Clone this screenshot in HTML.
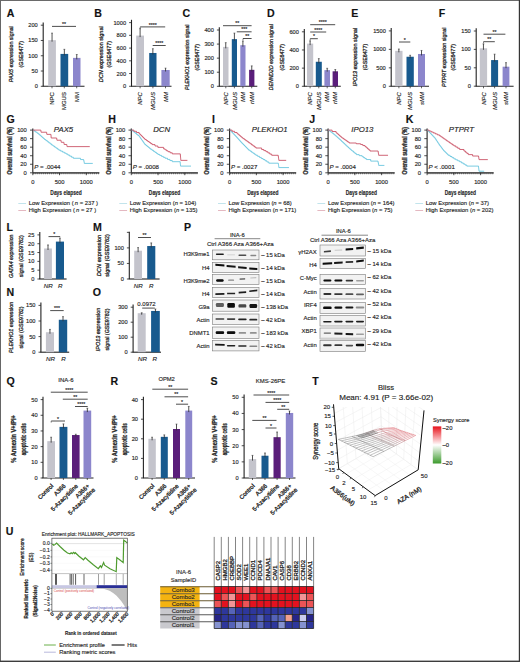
<!DOCTYPE html>
<html><head><meta charset="utf-8"><style>
html,body{margin:0;padding:0;background:#fff;overflow:hidden;width:520px;height:662px;}
svg{display:block;font-family:"Liberation Sans", sans-serif;}
text{stroke:#2a2a2a;stroke-width:0.15px;}
text.c{stroke:none;}
text.r{stroke-width:0.3px;}
</style></head><body>
<svg width="520" height="662" viewBox="0 0 520 662">
<rect x="0" y="0" width="520" height="662" fill="#fff"/>
<text x="6.80" y="16.60" font-size="10.6" font-weight="bold" fill="#111">A</text>
<line x1="43.20" y1="22.40" x2="43.20" y2="86.30" stroke="#222" stroke-width="1.1"/>
<line x1="42.70" y1="86.30" x2="84.50" y2="86.30" stroke="#222" stroke-width="1.1"/>
<line x1="40.80" y1="25.20" x2="43.20" y2="25.20" stroke="#222" stroke-width="0.8"/>
<text x="37.80" y="27.20" font-size="5.7" text-anchor="end" fill="#262626">200</text>
<line x1="40.80" y1="40.48" x2="43.20" y2="40.48" stroke="#222" stroke-width="0.8"/>
<text x="37.80" y="42.48" font-size="5.7" text-anchor="end" fill="#262626">150</text>
<line x1="40.80" y1="55.75" x2="43.20" y2="55.75" stroke="#222" stroke-width="0.8"/>
<text x="37.80" y="57.75" font-size="5.7" text-anchor="end" fill="#262626">100</text>
<line x1="40.80" y1="71.02" x2="43.20" y2="71.02" stroke="#222" stroke-width="0.8"/>
<text x="37.80" y="73.02" font-size="5.7" text-anchor="end" fill="#262626">50</text>
<line x1="40.80" y1="86.30" x2="43.20" y2="86.30" stroke="#222" stroke-width="0.8"/>
<text x="37.80" y="88.30" font-size="5.7" text-anchor="end" fill="#262626">0</text>
<rect x="48.20" y="40.17" width="7.70" height="46.13" fill="#c4c4cc"/>
<line x1="52.05" y1="33.14" x2="52.05" y2="41.67" stroke="#333" stroke-width="0.85"/>
<line x1="51.15" y1="33.14" x2="52.95" y2="33.14" stroke="#333" stroke-width="0.6"/>
<rect x="60.50" y="53.92" width="7.70" height="32.38" fill="#185a8e"/>
<line x1="64.35" y1="49.33" x2="64.35" y2="55.42" stroke="#333" stroke-width="0.85"/>
<line x1="63.45" y1="49.33" x2="65.25" y2="49.33" stroke="#333" stroke-width="0.6"/>
<rect x="73.00" y="57.89" width="7.50" height="28.41" fill="#8c86cc"/>
<line x1="76.75" y1="54.53" x2="76.75" y2="59.39" stroke="#333" stroke-width="0.85"/>
<line x1="75.85" y1="54.53" x2="77.65" y2="54.53" stroke="#333" stroke-width="0.6"/>
<line x1="52.00" y1="26.40" x2="76.00" y2="26.40" stroke="#3a3a3a" stroke-width="0.9"/>
<text x="64.00" y="26.00" font-size="5.2" text-anchor="middle" fill="#262626">**</text>
<line x1="52.00" y1="86.30" x2="52.00" y2="88.30" stroke="#222" stroke-width="0.7"/>
<text x="54.20" y="92.10" font-size="6.0" text-anchor="end" fill="#262626" transform="rotate(-90 54.20 92.10)">NPC</text>
<line x1="64.30" y1="86.30" x2="64.30" y2="88.30" stroke="#222" stroke-width="0.7"/>
<text x="66.50" y="92.10" font-size="6.0" text-anchor="end" fill="#262626" transform="rotate(-90 66.50 92.10)">MGUS</text>
<line x1="76.70" y1="86.30" x2="76.70" y2="88.30" stroke="#222" stroke-width="0.7"/>
<text x="78.90" y="92.10" font-size="6.0" text-anchor="end" fill="#262626" transform="rotate(-90 78.90 92.10)">MM</text>
<text x="12.60" y="54.20" font-size="6.0" text-anchor="middle" fill="#262626" textLength="56.0" lengthAdjust="spacingAndGlyphs" class="r" transform="rotate(-90 12.60 54.20)"><tspan font-style="italic">PAX5</tspan> expression signal</text>
<text x="22.80" y="54.20" font-size="6.0" text-anchor="middle" fill="#262626" transform="rotate(-90 22.80 54.20)" class="r" textLength="26.4" lengthAdjust="spacingAndGlyphs">(GSE6477)</text>
<text x="94.20" y="16.60" font-size="10.6" font-weight="bold" fill="#111">B</text>
<line x1="131.50" y1="19.80" x2="131.50" y2="86.30" stroke="#222" stroke-width="1.1"/>
<line x1="131.00" y1="86.30" x2="171.50" y2="86.30" stroke="#222" stroke-width="1.1"/>
<line x1="129.10" y1="22.60" x2="131.50" y2="22.60" stroke="#222" stroke-width="0.8"/>
<text x="126.10" y="24.60" font-size="5.7" text-anchor="end" fill="#262626">1000</text>
<line x1="129.10" y1="35.34" x2="131.50" y2="35.34" stroke="#222" stroke-width="0.8"/>
<text x="126.10" y="37.34" font-size="5.7" text-anchor="end" fill="#262626">800</text>
<line x1="129.10" y1="48.08" x2="131.50" y2="48.08" stroke="#222" stroke-width="0.8"/>
<text x="126.10" y="50.08" font-size="5.7" text-anchor="end" fill="#262626">600</text>
<line x1="129.10" y1="60.82" x2="131.50" y2="60.82" stroke="#222" stroke-width="0.8"/>
<text x="126.10" y="62.82" font-size="5.7" text-anchor="end" fill="#262626">400</text>
<line x1="129.10" y1="73.56" x2="131.50" y2="73.56" stroke="#222" stroke-width="0.8"/>
<text x="126.10" y="75.56" font-size="5.7" text-anchor="end" fill="#262626">200</text>
<line x1="129.10" y1="86.30" x2="131.50" y2="86.30" stroke="#222" stroke-width="0.8"/>
<text x="126.10" y="88.30" font-size="5.7" text-anchor="end" fill="#262626">0</text>
<rect x="136.20" y="35.59" width="7.80" height="50.71" fill="#c4c4cc"/>
<line x1="140.10" y1="28.65" x2="140.10" y2="37.09" stroke="#333" stroke-width="0.85"/>
<line x1="139.20" y1="28.65" x2="141.00" y2="28.65" stroke="#333" stroke-width="0.6"/>
<rect x="149.20" y="52.98" width="7.30" height="33.32" fill="#185a8e"/>
<line x1="152.85" y1="48.72" x2="152.85" y2="54.48" stroke="#333" stroke-width="0.85"/>
<line x1="151.95" y1="48.72" x2="153.75" y2="48.72" stroke="#333" stroke-width="0.6"/>
<rect x="161.40" y="69.99" width="8.30" height="16.31" fill="#8c86cc"/>
<line x1="165.55" y1="68.15" x2="165.55" y2="71.49" stroke="#333" stroke-width="0.85"/>
<line x1="164.65" y1="68.15" x2="166.45" y2="68.15" stroke="#333" stroke-width="0.6"/>
<line x1="140.20" y1="26.90" x2="165.20" y2="26.90" stroke="#3a3a3a" stroke-width="0.9"/>
<line x1="140.20" y1="26.90" x2="140.20" y2="28.50" stroke="#333" stroke-width="0.6"/>
<text x="152.70" y="26.50" font-size="5.2" text-anchor="middle" fill="#262626">****</text>
<line x1="152.70" y1="45.50" x2="165.70" y2="45.50" stroke="#3a3a3a" stroke-width="0.9"/>
<text x="159.20" y="45.10" font-size="5.2" text-anchor="middle" fill="#262626">****</text>
<line x1="140.10" y1="86.30" x2="140.10" y2="88.30" stroke="#222" stroke-width="0.7"/>
<text x="142.30" y="92.10" font-size="6.0" text-anchor="end" fill="#262626" font-style="italic" transform="rotate(-90 142.30 92.10)">NPC</text>
<line x1="152.90" y1="86.30" x2="152.90" y2="88.30" stroke="#222" stroke-width="0.7"/>
<text x="155.10" y="92.10" font-size="6.0" text-anchor="end" fill="#262626" font-style="italic" transform="rotate(-90 155.10 92.10)">MGUS</text>
<line x1="165.50" y1="86.30" x2="165.50" y2="88.30" stroke="#222" stroke-width="0.7"/>
<text x="167.70" y="92.10" font-size="6.0" text-anchor="end" fill="#262626" font-style="italic" transform="rotate(-90 167.70 92.10)">MM</text>
<text x="102.70" y="54.30" font-size="6.0" text-anchor="middle" fill="#262626" textLength="56.0" lengthAdjust="spacingAndGlyphs" class="r" transform="rotate(-90 102.70 54.30)"><tspan font-style="italic">DCN</tspan> expression signal</text>
<text x="111.40" y="54.30" font-size="6.0" text-anchor="middle" fill="#262626" transform="rotate(-90 111.40 54.30)" class="r" textLength="26.4" lengthAdjust="spacingAndGlyphs">(GSE6477)</text>
<text x="182.60" y="16.60" font-size="10.6" font-weight="bold" fill="#111">C</text>
<line x1="219.30" y1="27.20" x2="219.30" y2="86.30" stroke="#222" stroke-width="1.1"/>
<line x1="218.80" y1="86.30" x2="257.30" y2="86.30" stroke="#222" stroke-width="1.1"/>
<line x1="216.90" y1="30.00" x2="219.30" y2="30.00" stroke="#222" stroke-width="0.8"/>
<text x="213.90" y="32.00" font-size="5.7" text-anchor="end" fill="#262626">400</text>
<line x1="216.90" y1="44.08" x2="219.30" y2="44.08" stroke="#222" stroke-width="0.8"/>
<text x="213.90" y="46.08" font-size="5.7" text-anchor="end" fill="#262626">300</text>
<line x1="216.90" y1="58.15" x2="219.30" y2="58.15" stroke="#222" stroke-width="0.8"/>
<text x="213.90" y="60.15" font-size="5.7" text-anchor="end" fill="#262626">200</text>
<line x1="216.90" y1="72.22" x2="219.30" y2="72.22" stroke="#222" stroke-width="0.8"/>
<text x="213.90" y="74.22" font-size="5.7" text-anchor="end" fill="#262626">100</text>
<line x1="216.90" y1="86.30" x2="219.30" y2="86.30" stroke="#222" stroke-width="0.8"/>
<text x="213.90" y="88.30" font-size="5.7" text-anchor="end" fill="#262626">0</text>
<rect x="223.00" y="46.89" width="5.50" height="39.41" fill="#c4c4cc"/>
<line x1="225.75" y1="42.67" x2="225.75" y2="48.39" stroke="#333" stroke-width="0.85"/>
<line x1="224.85" y1="42.67" x2="226.65" y2="42.67" stroke="#333" stroke-width="0.6"/>
<rect x="231.80" y="39.15" width="5.20" height="47.15" fill="#185a8e"/>
<line x1="234.40" y1="33.10" x2="234.40" y2="40.65" stroke="#333" stroke-width="0.85"/>
<line x1="233.50" y1="33.10" x2="235.30" y2="33.10" stroke="#333" stroke-width="0.6"/>
<rect x="240.30" y="45.20" width="5.20" height="41.10" fill="#8c86cc"/>
<line x1="242.90" y1="40.98" x2="242.90" y2="46.70" stroke="#333" stroke-width="0.85"/>
<line x1="242.00" y1="40.98" x2="243.80" y2="40.98" stroke="#333" stroke-width="0.6"/>
<rect x="249.10" y="69.83" width="5.30" height="16.47" fill="#5a1e7a"/>
<line x1="251.75" y1="65.89" x2="251.75" y2="71.33" stroke="#333" stroke-width="0.85"/>
<line x1="250.85" y1="65.89" x2="252.65" y2="65.89" stroke="#333" stroke-width="0.6"/>
<line x1="223.00" y1="25.70" x2="251.60" y2="25.70" stroke="#3a3a3a" stroke-width="0.9"/>
<text x="237.30" y="25.30" font-size="5.2" text-anchor="middle" fill="#262626">**</text>
<line x1="236.80" y1="31.80" x2="251.60" y2="31.80" stroke="#3a3a3a" stroke-width="0.9"/>
<text x="244.20" y="31.40" font-size="5.2" text-anchor="middle" fill="#262626">***</text>
<line x1="243.00" y1="38.50" x2="251.60" y2="38.50" stroke="#3a3a3a" stroke-width="0.9"/>
<line x1="243.00" y1="38.50" x2="243.00" y2="40.10" stroke="#333" stroke-width="0.6"/>
<text x="247.30" y="38.10" font-size="5.2" text-anchor="middle" fill="#262626">**</text>
<line x1="225.80" y1="86.30" x2="225.80" y2="88.30" stroke="#222" stroke-width="0.7"/>
<text x="228.00" y="92.10" font-size="6.0" text-anchor="end" fill="#262626" font-style="italic" transform="rotate(-90 228.00 92.10)">NPC</text>
<line x1="234.40" y1="86.30" x2="234.40" y2="88.30" stroke="#222" stroke-width="0.7"/>
<text x="236.60" y="92.10" font-size="6.0" text-anchor="end" fill="#262626" font-style="italic" transform="rotate(-90 236.60 92.10)">MGUS</text>
<line x1="242.90" y1="86.30" x2="242.90" y2="88.30" stroke="#222" stroke-width="0.7"/>
<text x="245.10" y="92.10" font-size="6.0" text-anchor="end" fill="#262626" font-style="italic" transform="rotate(-90 245.10 92.10)">MM</text>
<line x1="251.70" y1="86.30" x2="251.70" y2="88.30" stroke="#222" stroke-width="0.7"/>
<text x="253.90" y="92.10" font-size="6.0" text-anchor="end" fill="#262626" font-style="italic" transform="rotate(-90 253.90 92.10)">rMM</text>
<text x="188.80" y="57.30" font-size="6.0" text-anchor="middle" fill="#262626" textLength="65.5" lengthAdjust="spacingAndGlyphs" class="r" transform="rotate(-90 188.80 57.30)"><tspan font-style="italic">PLEKHO1</tspan> expression signal</text>
<text x="198.90" y="57.30" font-size="6.0" text-anchor="middle" fill="#262626" transform="rotate(-90 198.90 57.30)" class="r" textLength="26.4" lengthAdjust="spacingAndGlyphs">(GSE6477)</text>
<text x="267.00" y="16.60" font-size="10.6" font-weight="bold" fill="#111">D</text>
<line x1="304.30" y1="29.00" x2="304.30" y2="86.30" stroke="#222" stroke-width="1.1"/>
<line x1="303.80" y1="86.30" x2="340.80" y2="86.30" stroke="#222" stroke-width="1.1"/>
<line x1="301.90" y1="31.80" x2="304.30" y2="31.80" stroke="#222" stroke-width="0.8"/>
<text x="298.90" y="33.80" font-size="5.7" text-anchor="end" fill="#262626">600</text>
<line x1="301.90" y1="49.97" x2="304.30" y2="49.97" stroke="#222" stroke-width="0.8"/>
<text x="298.90" y="51.97" font-size="5.7" text-anchor="end" fill="#262626">400</text>
<line x1="301.90" y1="68.13" x2="304.30" y2="68.13" stroke="#222" stroke-width="0.8"/>
<text x="298.90" y="70.13" font-size="5.7" text-anchor="end" fill="#262626">200</text>
<line x1="301.90" y1="86.30" x2="304.30" y2="86.30" stroke="#222" stroke-width="0.8"/>
<text x="298.90" y="88.30" font-size="5.7" text-anchor="end" fill="#262626">0</text>
<rect x="307.00" y="43.61" width="6.20" height="42.69" fill="#c4c4cc"/>
<line x1="310.10" y1="40.88" x2="310.10" y2="45.11" stroke="#333" stroke-width="0.85"/>
<line x1="309.20" y1="40.88" x2="311.00" y2="40.88" stroke="#333" stroke-width="0.6"/>
<rect x="315.80" y="61.77" width="6.00" height="24.53" fill="#185a8e"/>
<line x1="318.80" y1="58.60" x2="318.80" y2="63.27" stroke="#333" stroke-width="0.85"/>
<line x1="317.90" y1="58.60" x2="319.70" y2="58.60" stroke="#333" stroke-width="0.6"/>
<rect x="324.40" y="70.13" width="5.60" height="16.17" fill="#8c86cc"/>
<line x1="327.20" y1="68.31" x2="327.20" y2="71.63" stroke="#333" stroke-width="0.85"/>
<line x1="326.30" y1="68.31" x2="328.10" y2="68.31" stroke="#333" stroke-width="0.6"/>
<rect x="332.60" y="71.31" width="5.40" height="14.99" fill="#5a1e7a"/>
<line x1="335.30" y1="69.50" x2="335.30" y2="72.81" stroke="#333" stroke-width="0.85"/>
<line x1="334.40" y1="69.50" x2="336.20" y2="69.50" stroke="#333" stroke-width="0.6"/>
<line x1="310.20" y1="24.70" x2="335.20" y2="24.70" stroke="#3a3a3a" stroke-width="0.9"/>
<text x="322.70" y="24.30" font-size="5.2" text-anchor="middle" fill="#262626">****</text>
<line x1="310.20" y1="32.00" x2="326.20" y2="32.00" stroke="#3a3a3a" stroke-width="0.9"/>
<text x="318.20" y="31.60" font-size="5.2" text-anchor="middle" fill="#262626">****</text>
<line x1="310.20" y1="38.70" x2="317.80" y2="38.70" stroke="#3a3a3a" stroke-width="0.9"/>
<line x1="310.20" y1="38.70" x2="310.20" y2="40.30" stroke="#333" stroke-width="0.6"/>
<text x="314.00" y="38.30" font-size="5.2" text-anchor="middle" fill="#262626">*</text>
<line x1="310.10" y1="86.30" x2="310.10" y2="88.30" stroke="#222" stroke-width="0.7"/>
<text x="312.30" y="92.10" font-size="6.0" text-anchor="end" fill="#262626" font-style="italic" transform="rotate(-90 312.30 92.10)">NPC</text>
<line x1="318.80" y1="86.30" x2="318.80" y2="88.30" stroke="#222" stroke-width="0.7"/>
<text x="321.00" y="92.10" font-size="6.0" text-anchor="end" fill="#262626" font-style="italic" transform="rotate(-90 321.00 92.10)">MGUS</text>
<line x1="327.20" y1="86.30" x2="327.20" y2="88.30" stroke="#222" stroke-width="0.7"/>
<text x="329.40" y="92.10" font-size="6.0" text-anchor="end" fill="#262626" font-style="italic" transform="rotate(-90 329.40 92.10)">MM</text>
<line x1="335.30" y1="86.30" x2="335.30" y2="88.30" stroke="#222" stroke-width="0.7"/>
<text x="337.50" y="92.10" font-size="6.0" text-anchor="end" fill="#262626" font-style="italic" transform="rotate(-90 337.50 92.10)">rMM</text>
<text x="273.20" y="57.20" font-size="6.0" text-anchor="middle" fill="#262626" textLength="66.0" lengthAdjust="spacingAndGlyphs" class="r" transform="rotate(-90 273.20 57.20)"><tspan font-style="italic">DENND2D</tspan> expression signal</text>
<text x="283.60" y="57.20" font-size="6.0" text-anchor="middle" fill="#262626" transform="rotate(-90 283.60 57.20)" class="r" textLength="26.4" lengthAdjust="spacingAndGlyphs">(GSE6477)</text>
<text x="351.30" y="16.60" font-size="10.6" font-weight="bold" fill="#111">E</text>
<line x1="391.20" y1="28.10" x2="391.20" y2="86.30" stroke="#222" stroke-width="1.1"/>
<line x1="390.70" y1="86.30" x2="429.00" y2="86.30" stroke="#222" stroke-width="1.1"/>
<line x1="388.80" y1="30.90" x2="391.20" y2="30.90" stroke="#222" stroke-width="0.8"/>
<text x="385.80" y="32.90" font-size="5.7" text-anchor="end" fill="#262626">1500</text>
<line x1="388.80" y1="49.37" x2="391.20" y2="49.37" stroke="#222" stroke-width="0.8"/>
<text x="385.80" y="51.37" font-size="5.7" text-anchor="end" fill="#262626">1000</text>
<line x1="388.80" y1="67.83" x2="391.20" y2="67.83" stroke="#222" stroke-width="0.8"/>
<text x="385.80" y="69.83" font-size="5.7" text-anchor="end" fill="#262626">500</text>
<line x1="388.80" y1="86.30" x2="391.20" y2="86.30" stroke="#222" stroke-width="0.8"/>
<text x="385.80" y="88.30" font-size="5.7" text-anchor="end" fill="#262626">0</text>
<rect x="395.20" y="50.84" width="7.30" height="35.46" fill="#c4c4cc"/>
<line x1="398.85" y1="49.00" x2="398.85" y2="52.34" stroke="#333" stroke-width="0.85"/>
<line x1="397.95" y1="49.00" x2="399.75" y2="49.00" stroke="#333" stroke-width="0.6"/>
<rect x="406.50" y="56.75" width="7.30" height="29.55" fill="#185a8e"/>
<line x1="410.15" y1="55.28" x2="410.15" y2="58.25" stroke="#333" stroke-width="0.85"/>
<line x1="409.25" y1="55.28" x2="411.05" y2="55.28" stroke="#333" stroke-width="0.6"/>
<rect x="418.00" y="53.98" width="7.00" height="32.32" fill="#8c86cc"/>
<line x1="421.50" y1="50.47" x2="421.50" y2="55.48" stroke="#333" stroke-width="0.85"/>
<line x1="420.60" y1="50.47" x2="422.40" y2="50.47" stroke="#333" stroke-width="0.6"/>
<line x1="399.00" y1="42.00" x2="410.30" y2="42.00" stroke="#3a3a3a" stroke-width="0.9"/>
<text x="404.65" y="41.60" font-size="5.2" text-anchor="middle" fill="#262626">*</text>
<line x1="398.90" y1="86.30" x2="398.90" y2="88.30" stroke="#222" stroke-width="0.7"/>
<text x="401.10" y="92.10" font-size="6.0" text-anchor="end" fill="#262626" font-style="italic" transform="rotate(-90 401.10 92.10)">NPC</text>
<line x1="410.20" y1="86.30" x2="410.20" y2="88.30" stroke="#222" stroke-width="0.7"/>
<text x="412.40" y="92.10" font-size="6.0" text-anchor="end" fill="#262626" font-style="italic" transform="rotate(-90 412.40 92.10)">MGUS</text>
<line x1="421.50" y1="86.30" x2="421.50" y2="88.30" stroke="#222" stroke-width="0.7"/>
<text x="423.70" y="92.10" font-size="6.0" text-anchor="end" fill="#262626" font-style="italic" transform="rotate(-90 423.70 92.10)">sMM</text>
<text x="357.00" y="57.00" font-size="6.0" text-anchor="middle" fill="#262626" textLength="58.4" lengthAdjust="spacingAndGlyphs" class="r" transform="rotate(-90 357.00 57.00)"><tspan font-style="italic">IPO13</tspan> expression signal</text>
<text x="366.80" y="57.00" font-size="6.0" text-anchor="middle" fill="#262626" transform="rotate(-90 366.80 57.00)" class="r" textLength="26.4" lengthAdjust="spacingAndGlyphs">(GSE6477)</text>
<text x="438.80" y="16.60" font-size="10.6" font-weight="bold" fill="#111">F</text>
<line x1="476.20" y1="28.20" x2="476.20" y2="86.20" stroke="#222" stroke-width="1.1"/>
<line x1="475.70" y1="86.20" x2="513.60" y2="86.20" stroke="#222" stroke-width="1.1"/>
<line x1="473.80" y1="31.00" x2="476.20" y2="31.00" stroke="#222" stroke-width="0.8"/>
<text x="470.80" y="33.00" font-size="5.7" text-anchor="end" fill="#262626">150</text>
<line x1="473.80" y1="49.40" x2="476.20" y2="49.40" stroke="#222" stroke-width="0.8"/>
<text x="470.80" y="51.40" font-size="5.7" text-anchor="end" fill="#262626">100</text>
<line x1="473.80" y1="67.80" x2="476.20" y2="67.80" stroke="#222" stroke-width="0.8"/>
<text x="470.80" y="69.80" font-size="5.7" text-anchor="end" fill="#262626">50</text>
<line x1="473.80" y1="86.20" x2="476.20" y2="86.20" stroke="#222" stroke-width="0.8"/>
<text x="470.80" y="88.20" font-size="5.7" text-anchor="end" fill="#262626">0</text>
<rect x="479.80" y="48.30" width="7.30" height="37.90" fill="#c4c4cc"/>
<line x1="483.45" y1="43.88" x2="483.45" y2="49.80" stroke="#333" stroke-width="0.85"/>
<line x1="482.55" y1="43.88" x2="484.35" y2="43.88" stroke="#333" stroke-width="0.6"/>
<rect x="491.10" y="60.07" width="7.00" height="26.13" fill="#185a8e"/>
<line x1="494.60" y1="54.18" x2="494.60" y2="61.57" stroke="#333" stroke-width="0.85"/>
<line x1="493.70" y1="54.18" x2="495.50" y2="54.18" stroke="#333" stroke-width="0.6"/>
<rect x="502.60" y="66.70" width="6.80" height="19.50" fill="#8c86cc"/>
<line x1="506.00" y1="62.65" x2="506.00" y2="68.20" stroke="#333" stroke-width="0.85"/>
<line x1="505.10" y1="62.65" x2="506.90" y2="62.65" stroke="#333" stroke-width="0.6"/>
<line x1="483.50" y1="34.20" x2="505.40" y2="34.20" stroke="#3a3a3a" stroke-width="0.9"/>
<text x="494.45" y="33.80" font-size="5.2" text-anchor="middle" fill="#262626">**</text>
<line x1="483.50" y1="41.70" x2="494.80" y2="41.70" stroke="#3a3a3a" stroke-width="0.9"/>
<line x1="483.50" y1="41.70" x2="483.50" y2="43.30" stroke="#333" stroke-width="0.6"/>
<text x="489.15" y="41.30" font-size="5.2" text-anchor="middle" fill="#262626">**</text>
<line x1="483.50" y1="86.30" x2="483.50" y2="88.30" stroke="#222" stroke-width="0.7"/>
<text x="485.70" y="92.10" font-size="6.0" text-anchor="end" fill="#262626" font-style="italic" transform="rotate(-90 485.70 92.10)">NPC</text>
<line x1="494.60" y1="86.30" x2="494.60" y2="88.30" stroke="#222" stroke-width="0.7"/>
<text x="496.80" y="92.10" font-size="6.0" text-anchor="end" fill="#262626" font-style="italic" transform="rotate(-90 496.80 92.10)">MGUS</text>
<line x1="506.00" y1="86.30" x2="506.00" y2="88.30" stroke="#222" stroke-width="0.7"/>
<text x="508.20" y="92.10" font-size="6.0" text-anchor="end" fill="#262626" font-style="italic" transform="rotate(-90 508.20 92.10)">sMM</text>
<text x="446.20" y="57.30" font-size="6.0" text-anchor="middle" fill="#262626" textLength="59.6" lengthAdjust="spacingAndGlyphs" class="r" transform="rotate(-90 446.20 57.30)"><tspan font-style="italic">PTPRT</tspan> expression signal</text>
<text x="455.50" y="57.30" font-size="6.0" text-anchor="middle" fill="#262626" transform="rotate(-90 455.50 57.30)" class="r" textLength="26.4" lengthAdjust="spacingAndGlyphs">(GSE6477)</text>
<line x1="32.80" y1="128.60" x2="32.80" y2="172.80" stroke="#222" stroke-width="1.1"/>
<line x1="32.80" y1="172.80" x2="99.40" y2="172.80" stroke="#222" stroke-width="1.2"/>
<line x1="33.80" y1="172.80" x2="33.80" y2="174.30" stroke="#222" stroke-width="0.5"/>
<line x1="35.76" y1="172.80" x2="35.76" y2="174.30" stroke="#222" stroke-width="0.5"/>
<line x1="37.72" y1="172.80" x2="37.72" y2="174.30" stroke="#222" stroke-width="0.5"/>
<line x1="39.68" y1="172.80" x2="39.68" y2="174.30" stroke="#222" stroke-width="0.5"/>
<line x1="41.64" y1="172.80" x2="41.64" y2="174.30" stroke="#222" stroke-width="0.5"/>
<line x1="43.60" y1="172.80" x2="43.60" y2="174.30" stroke="#222" stroke-width="0.5"/>
<line x1="45.56" y1="172.80" x2="45.56" y2="174.30" stroke="#222" stroke-width="0.5"/>
<line x1="47.52" y1="172.80" x2="47.52" y2="174.30" stroke="#222" stroke-width="0.5"/>
<line x1="49.48" y1="172.80" x2="49.48" y2="174.30" stroke="#222" stroke-width="0.5"/>
<line x1="51.44" y1="172.80" x2="51.44" y2="174.30" stroke="#222" stroke-width="0.5"/>
<line x1="53.40" y1="172.80" x2="53.40" y2="174.30" stroke="#222" stroke-width="0.5"/>
<line x1="55.36" y1="172.80" x2="55.36" y2="174.30" stroke="#222" stroke-width="0.5"/>
<line x1="57.32" y1="172.80" x2="57.32" y2="174.30" stroke="#222" stroke-width="0.5"/>
<line x1="59.28" y1="172.80" x2="59.28" y2="174.30" stroke="#222" stroke-width="0.5"/>
<line x1="61.24" y1="172.80" x2="61.24" y2="174.30" stroke="#222" stroke-width="0.5"/>
<line x1="63.20" y1="172.80" x2="63.20" y2="174.30" stroke="#222" stroke-width="0.5"/>
<line x1="65.16" y1="172.80" x2="65.16" y2="174.30" stroke="#222" stroke-width="0.5"/>
<line x1="67.12" y1="172.80" x2="67.12" y2="174.30" stroke="#222" stroke-width="0.5"/>
<line x1="69.08" y1="172.80" x2="69.08" y2="174.30" stroke="#222" stroke-width="0.5"/>
<line x1="71.04" y1="172.80" x2="71.04" y2="174.30" stroke="#222" stroke-width="0.5"/>
<line x1="73.00" y1="172.80" x2="73.00" y2="174.30" stroke="#222" stroke-width="0.5"/>
<line x1="74.96" y1="172.80" x2="74.96" y2="174.30" stroke="#222" stroke-width="0.5"/>
<line x1="76.92" y1="172.80" x2="76.92" y2="174.30" stroke="#222" stroke-width="0.5"/>
<line x1="78.88" y1="172.80" x2="78.88" y2="174.30" stroke="#222" stroke-width="0.5"/>
<line x1="80.84" y1="172.80" x2="80.84" y2="174.30" stroke="#222" stroke-width="0.5"/>
<line x1="82.80" y1="172.80" x2="82.80" y2="174.30" stroke="#222" stroke-width="0.5"/>
<line x1="84.76" y1="172.80" x2="84.76" y2="174.30" stroke="#222" stroke-width="0.5"/>
<line x1="86.72" y1="172.80" x2="86.72" y2="174.30" stroke="#222" stroke-width="0.5"/>
<line x1="88.68" y1="172.80" x2="88.68" y2="174.30" stroke="#222" stroke-width="0.5"/>
<line x1="90.64" y1="172.80" x2="90.64" y2="174.30" stroke="#222" stroke-width="0.5"/>
<line x1="92.60" y1="172.80" x2="92.60" y2="174.30" stroke="#222" stroke-width="0.5"/>
<line x1="94.56" y1="172.80" x2="94.56" y2="174.30" stroke="#222" stroke-width="0.5"/>
<line x1="96.52" y1="172.80" x2="96.52" y2="174.30" stroke="#222" stroke-width="0.5"/>
<line x1="98.48" y1="172.80" x2="98.48" y2="174.30" stroke="#222" stroke-width="0.5"/>
<line x1="30.00" y1="172.80" x2="32.80" y2="172.80" stroke="#222" stroke-width="0.8"/>
<text x="26.80" y="174.80" font-size="5.8" text-anchor="end" fill="#262626">0</text>
<line x1="30.00" y1="164.26" x2="32.80" y2="164.26" stroke="#222" stroke-width="0.8"/>
<text x="26.80" y="166.26" font-size="5.8" text-anchor="end" fill="#262626">20</text>
<line x1="30.00" y1="155.72" x2="32.80" y2="155.72" stroke="#222" stroke-width="0.8"/>
<text x="26.80" y="157.72" font-size="5.8" text-anchor="end" fill="#262626">40</text>
<line x1="30.00" y1="147.18" x2="32.80" y2="147.18" stroke="#222" stroke-width="0.8"/>
<text x="26.80" y="149.18" font-size="5.8" text-anchor="end" fill="#262626">60</text>
<line x1="30.00" y1="138.64" x2="32.80" y2="138.64" stroke="#222" stroke-width="0.8"/>
<text x="26.80" y="140.64" font-size="5.8" text-anchor="end" fill="#262626">80</text>
<line x1="30.00" y1="130.10" x2="32.80" y2="130.10" stroke="#222" stroke-width="0.8"/>
<text x="26.80" y="132.10" font-size="5.8" text-anchor="end" fill="#262626">100</text>
<line x1="32.80" y1="172.80" x2="32.80" y2="175.20" stroke="#222" stroke-width="0.8"/>
<text x="32.80" y="184.30" font-size="5.8" text-anchor="middle" fill="#262626">0</text>
<line x1="59.55" y1="172.80" x2="59.55" y2="175.20" stroke="#222" stroke-width="0.8"/>
<text x="59.55" y="184.30" font-size="5.8" text-anchor="middle" fill="#262626">500</text>
<line x1="86.30" y1="172.80" x2="86.30" y2="175.20" stroke="#222" stroke-width="0.8"/>
<text x="86.30" y="184.30" font-size="5.8" text-anchor="middle" fill="#262626">1000</text>
<text x="66.00" y="194.50" font-size="7.6" text-anchor="middle" font-weight="bold" fill="#262626" textLength="31.3" lengthAdjust="spacingAndGlyphs">Days elapsed</text>
<text x="12.30" y="150.80" font-size="6.6" text-anchor="middle" font-weight="bold" fill="#262626" transform="rotate(-90 12.30 150.80)" class="r" textLength="47.5" lengthAdjust="spacingAndGlyphs">Overall survival (%)</text>
<text x="63.50" y="132.00" font-size="7.8" text-anchor="middle" font-style="italic" fill="#222">PAX5</text>
<text x="34.20" y="169.2" font-size="6.1" fill="#262626"><tspan font-style="italic">P</tspan> = .0044</text>
<path d="M32.80,130.10 L34.27,130.10 L34.27,131.17 L35.74,131.17 L35.74,132.23 L37.21,132.23 L37.21,133.30 L38.68,133.30 L38.68,134.37 L39.83,134.37 L39.83,135.39 L40.97,135.39 L40.97,136.42 L42.12,136.42 L42.12,137.44 L43.26,137.44 L43.26,138.47 L44.41,138.47 L44.41,139.49 L45.85,139.49 L45.85,140.60 L47.30,140.60 L47.30,141.71 L48.74,141.71 L48.74,142.82 L50.19,142.82 L50.19,143.93 L51.63,143.93 L51.63,145.05 L53.08,145.05 L53.08,146.07 L54.52,146.07 L54.52,147.09 L55.97,147.09 L55.97,148.12 L57.41,148.12 L57.41,149.14 L58.85,149.14 L58.85,150.17 L60.66,150.17 L60.66,151.13 L62.47,151.13 L62.47,152.09 L64.27,152.09 L64.27,153.05 L66.08,153.05 L66.08,154.01 L67.88,154.01 L67.88,155.08 L69.69,155.08 L69.69,156.15 L71.49,156.15 L71.49,157.21 L73.30,157.21 L73.30,158.28 L80.52,158.28 L80.52,159.56 L83.62,159.56 L83.62,159.99 L83.84,159.99 L83.84,161.13 L84.05,161.13 L84.05,162.27 L84.27,162.27 L84.27,163.41 L92.77,163.41 L92.77,163.41" stroke="#62c3dd" stroke-width="0.85" fill="none"/>
<path d="M32.80,130.10 L40.82,130.10 L41.09,132.23 L46.60,132.23 L46.82,134.37 L50.94,134.37 L51.20,138.00 L56.66,138.00 L56.93,140.22 L60.99,140.22 L61.26,142.31 L63.88,142.31 L64.15,144.49 L66.77,144.49 L67.04,146.62 L89.78,146.62" stroke="#c84a5e" stroke-width="0.85" fill="none"/>
<line x1="18.30" y1="203.50" x2="26.10" y2="203.50" stroke="#a8d8e4" stroke-width="0.7"/>
<line x1="18.30" y1="210.50" x2="26.10" y2="210.50" stroke="#d89aa6" stroke-width="0.7"/>
<text x="28.80" y="205.4" font-size="5.85" fill="#262626">Low Expression (&#8201;<tspan font-style="italic">n</tspan> = 237 )</text>
<text x="28.80" y="212.4" font-size="5.85" fill="#262626">High Expression (&#8201;<tspan font-style="italic">n</tspan> = 27 )</text>
<text x="6.60" y="122.70" font-size="10.6" font-weight="bold" fill="#111">G</text>
<line x1="131.30" y1="128.60" x2="131.30" y2="172.80" stroke="#222" stroke-width="1.1"/>
<line x1="131.30" y1="172.80" x2="197.90" y2="172.80" stroke="#222" stroke-width="1.2"/>
<line x1="132.30" y1="172.80" x2="132.30" y2="174.30" stroke="#222" stroke-width="0.5"/>
<line x1="134.26" y1="172.80" x2="134.26" y2="174.30" stroke="#222" stroke-width="0.5"/>
<line x1="136.22" y1="172.80" x2="136.22" y2="174.30" stroke="#222" stroke-width="0.5"/>
<line x1="138.18" y1="172.80" x2="138.18" y2="174.30" stroke="#222" stroke-width="0.5"/>
<line x1="140.14" y1="172.80" x2="140.14" y2="174.30" stroke="#222" stroke-width="0.5"/>
<line x1="142.10" y1="172.80" x2="142.10" y2="174.30" stroke="#222" stroke-width="0.5"/>
<line x1="144.06" y1="172.80" x2="144.06" y2="174.30" stroke="#222" stroke-width="0.5"/>
<line x1="146.02" y1="172.80" x2="146.02" y2="174.30" stroke="#222" stroke-width="0.5"/>
<line x1="147.98" y1="172.80" x2="147.98" y2="174.30" stroke="#222" stroke-width="0.5"/>
<line x1="149.94" y1="172.80" x2="149.94" y2="174.30" stroke="#222" stroke-width="0.5"/>
<line x1="151.90" y1="172.80" x2="151.90" y2="174.30" stroke="#222" stroke-width="0.5"/>
<line x1="153.86" y1="172.80" x2="153.86" y2="174.30" stroke="#222" stroke-width="0.5"/>
<line x1="155.82" y1="172.80" x2="155.82" y2="174.30" stroke="#222" stroke-width="0.5"/>
<line x1="157.78" y1="172.80" x2="157.78" y2="174.30" stroke="#222" stroke-width="0.5"/>
<line x1="159.74" y1="172.80" x2="159.74" y2="174.30" stroke="#222" stroke-width="0.5"/>
<line x1="161.70" y1="172.80" x2="161.70" y2="174.30" stroke="#222" stroke-width="0.5"/>
<line x1="163.66" y1="172.80" x2="163.66" y2="174.30" stroke="#222" stroke-width="0.5"/>
<line x1="165.62" y1="172.80" x2="165.62" y2="174.30" stroke="#222" stroke-width="0.5"/>
<line x1="167.58" y1="172.80" x2="167.58" y2="174.30" stroke="#222" stroke-width="0.5"/>
<line x1="169.54" y1="172.80" x2="169.54" y2="174.30" stroke="#222" stroke-width="0.5"/>
<line x1="171.50" y1="172.80" x2="171.50" y2="174.30" stroke="#222" stroke-width="0.5"/>
<line x1="173.46" y1="172.80" x2="173.46" y2="174.30" stroke="#222" stroke-width="0.5"/>
<line x1="175.42" y1="172.80" x2="175.42" y2="174.30" stroke="#222" stroke-width="0.5"/>
<line x1="177.38" y1="172.80" x2="177.38" y2="174.30" stroke="#222" stroke-width="0.5"/>
<line x1="179.34" y1="172.80" x2="179.34" y2="174.30" stroke="#222" stroke-width="0.5"/>
<line x1="181.30" y1="172.80" x2="181.30" y2="174.30" stroke="#222" stroke-width="0.5"/>
<line x1="183.26" y1="172.80" x2="183.26" y2="174.30" stroke="#222" stroke-width="0.5"/>
<line x1="185.22" y1="172.80" x2="185.22" y2="174.30" stroke="#222" stroke-width="0.5"/>
<line x1="187.18" y1="172.80" x2="187.18" y2="174.30" stroke="#222" stroke-width="0.5"/>
<line x1="189.14" y1="172.80" x2="189.14" y2="174.30" stroke="#222" stroke-width="0.5"/>
<line x1="191.10" y1="172.80" x2="191.10" y2="174.30" stroke="#222" stroke-width="0.5"/>
<line x1="193.06" y1="172.80" x2="193.06" y2="174.30" stroke="#222" stroke-width="0.5"/>
<line x1="195.02" y1="172.80" x2="195.02" y2="174.30" stroke="#222" stroke-width="0.5"/>
<line x1="196.98" y1="172.80" x2="196.98" y2="174.30" stroke="#222" stroke-width="0.5"/>
<line x1="128.50" y1="172.80" x2="131.30" y2="172.80" stroke="#222" stroke-width="0.8"/>
<text x="125.30" y="174.80" font-size="5.8" text-anchor="end" fill="#262626">0</text>
<line x1="128.50" y1="164.26" x2="131.30" y2="164.26" stroke="#222" stroke-width="0.8"/>
<text x="125.30" y="166.26" font-size="5.8" text-anchor="end" fill="#262626">20</text>
<line x1="128.50" y1="155.72" x2="131.30" y2="155.72" stroke="#222" stroke-width="0.8"/>
<text x="125.30" y="157.72" font-size="5.8" text-anchor="end" fill="#262626">40</text>
<line x1="128.50" y1="147.18" x2="131.30" y2="147.18" stroke="#222" stroke-width="0.8"/>
<text x="125.30" y="149.18" font-size="5.8" text-anchor="end" fill="#262626">60</text>
<line x1="128.50" y1="138.64" x2="131.30" y2="138.64" stroke="#222" stroke-width="0.8"/>
<text x="125.30" y="140.64" font-size="5.8" text-anchor="end" fill="#262626">80</text>
<line x1="128.50" y1="130.10" x2="131.30" y2="130.10" stroke="#222" stroke-width="0.8"/>
<text x="125.30" y="132.10" font-size="5.8" text-anchor="end" fill="#262626">100</text>
<line x1="131.30" y1="172.80" x2="131.30" y2="175.20" stroke="#222" stroke-width="0.8"/>
<text x="131.30" y="184.30" font-size="5.8" text-anchor="middle" fill="#262626">0</text>
<line x1="158.05" y1="172.80" x2="158.05" y2="175.20" stroke="#222" stroke-width="0.8"/>
<text x="158.05" y="184.30" font-size="5.8" text-anchor="middle" fill="#262626">500</text>
<line x1="184.80" y1="172.80" x2="184.80" y2="175.20" stroke="#222" stroke-width="0.8"/>
<text x="184.80" y="184.30" font-size="5.8" text-anchor="middle" fill="#262626">1000</text>
<text x="164.50" y="194.50" font-size="7.6" text-anchor="middle" font-weight="bold" fill="#262626" textLength="31.3" lengthAdjust="spacingAndGlyphs">Days elapsed</text>
<text x="110.80" y="150.80" font-size="6.6" text-anchor="middle" font-weight="bold" fill="#262626" transform="rotate(-90 110.80 150.80)" class="r" textLength="47.5" lengthAdjust="spacingAndGlyphs">Overall survival (%)</text>
<text x="161.70" y="132.00" font-size="7.8" text-anchor="middle" font-style="italic" fill="#222">DCN</text>
<text x="132.70" y="169.2" font-size="6.1" fill="#262626"><tspan font-style="italic">P</tspan> = .0008</text>
<path d="M131.30,130.10 L132.60,130.10 L132.60,131.17 L133.90,131.17 L133.90,132.23 L135.21,132.23 L135.21,133.30 L136.51,133.30 L136.51,134.37 L137.81,134.37 L137.81,135.44 L139.11,135.44 L139.11,136.50 L139.83,136.50 L139.83,137.52 L140.56,137.52 L140.56,138.53 L141.28,138.53 L141.28,139.55 L142.00,139.55 L142.00,140.56 L142.72,140.56 L142.72,141.58 L143.44,141.58 L143.44,142.59 L144.17,142.59 L144.17,143.60 L144.89,143.60 L144.89,144.62 L146.03,144.62 L146.03,145.56 L147.18,145.56 L147.18,146.50 L148.32,146.50 L148.32,147.44 L149.47,147.44 L149.47,148.38 L150.61,148.38 L150.61,149.31 L152.07,149.31 L152.07,150.34 L153.52,150.34 L153.52,151.36 L154.98,151.36 L154.98,152.39 L156.43,152.39 L156.43,153.41 L157.89,153.41 L157.89,154.44 L159.70,154.44 L159.70,155.40 L161.50,155.40 L161.50,156.36 L163.31,156.36 L163.31,157.32 L165.11,157.32 L165.11,158.28 L167.50,158.28 L167.50,159.42 L169.89,159.42 L169.89,160.56 L172.28,160.56 L172.28,161.70 L180.20,161.70 L180.20,163.19 L180.31,163.19 L180.31,164.16 L180.41,164.16 L180.41,165.13 L180.52,165.13 L180.52,166.10 L191.01,166.10 L191.01,166.10" stroke="#62c3dd" stroke-width="0.85" fill="none"/>
<path d="M131.30,130.10 L133.90,130.10 L133.90,131.30 L136.51,131.30 L136.51,132.49 L139.11,132.49 L139.11,133.69 L140.07,133.69 L140.07,134.65 L141.04,134.65 L141.04,135.62 L142.00,135.62 L142.00,136.59 L142.96,136.59 L142.96,137.56 L143.93,137.56 L143.93,138.53 L144.89,138.53 L144.89,139.49 L146.33,139.49 L146.33,140.52 L147.78,140.52 L147.78,141.54 L149.22,141.54 L149.22,142.57 L150.67,142.57 L150.67,143.59 L152.11,143.59 L152.11,144.62 L155.00,144.62 L155.00,146.01 L157.89,146.01 L157.89,147.39 L163.61,147.39 L163.61,148.89 L165.08,148.89 L165.08,149.83 L166.54,149.83 L166.54,150.77 L168.00,150.77 L168.00,151.71 L170.14,151.71 L170.14,152.80 L172.28,152.80 L172.28,153.88 L180.20,153.88 L180.20,153.88 L180.30,153.88 L180.30,154.97 L180.40,154.97 L180.40,156.05 L180.49,156.05 L180.49,157.13 L180.59,157.13 L180.59,158.21 L180.69,158.21 L180.69,159.29 L180.79,159.29 L180.79,160.37 L187.42,160.37 L187.42,160.37" stroke="#c84a5e" stroke-width="0.85" fill="none"/>
<line x1="119.30" y1="203.50" x2="127.10" y2="203.50" stroke="#a8d8e4" stroke-width="0.7"/>
<line x1="119.30" y1="210.50" x2="127.10" y2="210.50" stroke="#d89aa6" stroke-width="0.7"/>
<text x="129.80" y="205.4" font-size="5.85" fill="#262626">Low Expression (<tspan font-style="italic">n</tspan> = 104)</text>
<text x="129.80" y="212.4" font-size="5.85" fill="#262626">High Expression (<tspan font-style="italic">n</tspan> = 135)</text>
<text x="108.30" y="122.70" font-size="10.6" font-weight="bold" fill="#111">H</text>
<line x1="229.60" y1="128.60" x2="229.60" y2="172.80" stroke="#222" stroke-width="1.1"/>
<line x1="229.60" y1="172.80" x2="296.20" y2="172.80" stroke="#222" stroke-width="1.2"/>
<line x1="230.60" y1="172.80" x2="230.60" y2="174.30" stroke="#222" stroke-width="0.5"/>
<line x1="232.56" y1="172.80" x2="232.56" y2="174.30" stroke="#222" stroke-width="0.5"/>
<line x1="234.52" y1="172.80" x2="234.52" y2="174.30" stroke="#222" stroke-width="0.5"/>
<line x1="236.48" y1="172.80" x2="236.48" y2="174.30" stroke="#222" stroke-width="0.5"/>
<line x1="238.44" y1="172.80" x2="238.44" y2="174.30" stroke="#222" stroke-width="0.5"/>
<line x1="240.40" y1="172.80" x2="240.40" y2="174.30" stroke="#222" stroke-width="0.5"/>
<line x1="242.36" y1="172.80" x2="242.36" y2="174.30" stroke="#222" stroke-width="0.5"/>
<line x1="244.32" y1="172.80" x2="244.32" y2="174.30" stroke="#222" stroke-width="0.5"/>
<line x1="246.28" y1="172.80" x2="246.28" y2="174.30" stroke="#222" stroke-width="0.5"/>
<line x1="248.24" y1="172.80" x2="248.24" y2="174.30" stroke="#222" stroke-width="0.5"/>
<line x1="250.20" y1="172.80" x2="250.20" y2="174.30" stroke="#222" stroke-width="0.5"/>
<line x1="252.16" y1="172.80" x2="252.16" y2="174.30" stroke="#222" stroke-width="0.5"/>
<line x1="254.12" y1="172.80" x2="254.12" y2="174.30" stroke="#222" stroke-width="0.5"/>
<line x1="256.08" y1="172.80" x2="256.08" y2="174.30" stroke="#222" stroke-width="0.5"/>
<line x1="258.04" y1="172.80" x2="258.04" y2="174.30" stroke="#222" stroke-width="0.5"/>
<line x1="260.00" y1="172.80" x2="260.00" y2="174.30" stroke="#222" stroke-width="0.5"/>
<line x1="261.96" y1="172.80" x2="261.96" y2="174.30" stroke="#222" stroke-width="0.5"/>
<line x1="263.92" y1="172.80" x2="263.92" y2="174.30" stroke="#222" stroke-width="0.5"/>
<line x1="265.88" y1="172.80" x2="265.88" y2="174.30" stroke="#222" stroke-width="0.5"/>
<line x1="267.84" y1="172.80" x2="267.84" y2="174.30" stroke="#222" stroke-width="0.5"/>
<line x1="269.80" y1="172.80" x2="269.80" y2="174.30" stroke="#222" stroke-width="0.5"/>
<line x1="271.76" y1="172.80" x2="271.76" y2="174.30" stroke="#222" stroke-width="0.5"/>
<line x1="273.72" y1="172.80" x2="273.72" y2="174.30" stroke="#222" stroke-width="0.5"/>
<line x1="275.68" y1="172.80" x2="275.68" y2="174.30" stroke="#222" stroke-width="0.5"/>
<line x1="277.64" y1="172.80" x2="277.64" y2="174.30" stroke="#222" stroke-width="0.5"/>
<line x1="279.60" y1="172.80" x2="279.60" y2="174.30" stroke="#222" stroke-width="0.5"/>
<line x1="281.56" y1="172.80" x2="281.56" y2="174.30" stroke="#222" stroke-width="0.5"/>
<line x1="283.52" y1="172.80" x2="283.52" y2="174.30" stroke="#222" stroke-width="0.5"/>
<line x1="285.48" y1="172.80" x2="285.48" y2="174.30" stroke="#222" stroke-width="0.5"/>
<line x1="287.44" y1="172.80" x2="287.44" y2="174.30" stroke="#222" stroke-width="0.5"/>
<line x1="289.40" y1="172.80" x2="289.40" y2="174.30" stroke="#222" stroke-width="0.5"/>
<line x1="291.36" y1="172.80" x2="291.36" y2="174.30" stroke="#222" stroke-width="0.5"/>
<line x1="293.32" y1="172.80" x2="293.32" y2="174.30" stroke="#222" stroke-width="0.5"/>
<line x1="295.28" y1="172.80" x2="295.28" y2="174.30" stroke="#222" stroke-width="0.5"/>
<line x1="226.80" y1="172.80" x2="229.60" y2="172.80" stroke="#222" stroke-width="0.8"/>
<text x="223.60" y="174.80" font-size="5.8" text-anchor="end" fill="#262626">0</text>
<line x1="226.80" y1="164.26" x2="229.60" y2="164.26" stroke="#222" stroke-width="0.8"/>
<text x="223.60" y="166.26" font-size="5.8" text-anchor="end" fill="#262626">20</text>
<line x1="226.80" y1="155.72" x2="229.60" y2="155.72" stroke="#222" stroke-width="0.8"/>
<text x="223.60" y="157.72" font-size="5.8" text-anchor="end" fill="#262626">40</text>
<line x1="226.80" y1="147.18" x2="229.60" y2="147.18" stroke="#222" stroke-width="0.8"/>
<text x="223.60" y="149.18" font-size="5.8" text-anchor="end" fill="#262626">60</text>
<line x1="226.80" y1="138.64" x2="229.60" y2="138.64" stroke="#222" stroke-width="0.8"/>
<text x="223.60" y="140.64" font-size="5.8" text-anchor="end" fill="#262626">80</text>
<line x1="226.80" y1="130.10" x2="229.60" y2="130.10" stroke="#222" stroke-width="0.8"/>
<text x="223.60" y="132.10" font-size="5.8" text-anchor="end" fill="#262626">100</text>
<line x1="229.60" y1="172.80" x2="229.60" y2="175.20" stroke="#222" stroke-width="0.8"/>
<text x="229.60" y="184.30" font-size="5.8" text-anchor="middle" fill="#262626">0</text>
<line x1="256.35" y1="172.80" x2="256.35" y2="175.20" stroke="#222" stroke-width="0.8"/>
<text x="256.35" y="184.30" font-size="5.8" text-anchor="middle" fill="#262626">500</text>
<line x1="283.10" y1="172.80" x2="283.10" y2="175.20" stroke="#222" stroke-width="0.8"/>
<text x="283.10" y="184.30" font-size="5.8" text-anchor="middle" fill="#262626">1000</text>
<text x="262.80" y="194.50" font-size="7.6" text-anchor="middle" font-weight="bold" fill="#262626" textLength="31.3" lengthAdjust="spacingAndGlyphs">Days elapsed</text>
<text x="209.10" y="150.80" font-size="6.6" text-anchor="middle" font-weight="bold" fill="#262626" transform="rotate(-90 209.10 150.80)" class="r" textLength="47.5" lengthAdjust="spacingAndGlyphs">Overall survival (%)</text>
<text x="269.70" y="132.00" font-size="7.8" text-anchor="middle" font-style="italic" fill="#222">PLEKHO1</text>
<text x="231.00" y="169.2" font-size="6.1" fill="#262626"><tspan font-style="italic">P</tspan> = .0027</text>
<path d="M229.60,130.10 L230.62,130.10 L230.62,131.17 L231.63,131.17 L231.63,132.23 L232.65,132.23 L232.65,133.30 L233.67,133.30 L233.67,134.37 L234.68,134.37 L234.68,135.44 L235.70,135.44 L235.70,136.50 L236.65,136.50 L236.65,137.57 L237.61,137.57 L237.61,138.64 L238.56,138.64 L238.56,139.71 L239.52,139.71 L239.52,140.78 L240.47,140.78 L240.47,141.84 L241.42,141.84 L241.42,142.91 L242.45,142.91 L242.45,143.95 L243.47,143.95 L243.47,144.98 L244.50,144.98 L244.50,146.02 L245.52,146.02 L245.52,147.06 L246.54,147.06 L246.54,148.09 L247.57,148.09 L247.57,149.13 L248.59,149.13 L248.59,150.17 L250.05,150.17 L250.05,151.19 L251.50,151.19 L251.50,152.22 L252.96,152.22 L252.96,153.24 L254.41,153.24 L254.41,154.27 L255.87,154.27 L255.87,155.29 L257.67,155.29 L257.67,156.36 L259.48,156.36 L259.48,157.43 L261.29,157.43 L261.29,158.50 L263.09,158.50 L263.09,159.56 L265.00,159.56 L265.00,160.77 L266.91,160.77 L266.91,161.98 L268.82,161.98 L268.82,163.19 L278.18,163.19 L278.18,163.19 L278.34,163.19 L278.34,164.29 L278.50,164.29 L278.50,165.39 L278.66,165.39 L278.66,166.49 L278.82,166.49 L278.82,167.59 L288.99,167.59 L288.99,167.59" stroke="#62c3dd" stroke-width="0.85" fill="none"/>
<path d="M229.60,130.10 L232.10,130.10 L232.10,131.30 L234.59,131.30 L234.59,132.49 L237.09,132.49 L237.09,133.69 L238.26,133.69 L238.26,134.68 L239.42,134.68 L239.42,135.67 L240.59,135.67 L240.59,136.66 L241.76,136.66 L241.76,137.65 L242.92,137.65 L242.92,138.64 L244.36,138.64 L244.36,139.66 L245.79,139.66 L245.79,140.69 L247.22,140.69 L247.22,141.71 L248.66,141.71 L248.66,142.74 L250.09,142.74 L250.09,143.76 L251.53,143.76 L251.53,144.83 L252.98,144.83 L252.98,145.90 L254.42,145.90 L254.42,146.97 L255.87,146.97 L255.87,148.03 L261.65,148.03 L261.65,149.53 L263.81,149.53 L263.81,150.62 L265.98,150.62 L265.98,151.71 L267.89,151.71 L267.89,152.90 L269.80,152.90 L269.80,154.10 L271.70,154.10 L271.70,155.29 L278.18,155.29 L278.18,156.02 L278.34,156.02 L278.34,157.11 L278.50,157.11 L278.50,158.20 L278.66,158.20 L278.66,159.29 L278.82,159.29 L278.82,160.37 L286.20,160.37 L286.20,160.37" stroke="#c84a5e" stroke-width="0.85" fill="none"/>
<line x1="218.00" y1="203.50" x2="225.80" y2="203.50" stroke="#a8d8e4" stroke-width="0.7"/>
<line x1="218.00" y1="210.50" x2="225.80" y2="210.50" stroke="#d89aa6" stroke-width="0.7"/>
<text x="228.50" y="205.4" font-size="5.85" fill="#262626">Low Expression (<tspan font-style="italic">n</tspan> = 68)</text>
<text x="228.50" y="212.4" font-size="5.85" fill="#262626">High Expression (<tspan font-style="italic">n</tspan> = 171)</text>
<text x="212.00" y="122.70" font-size="10.6" font-weight="bold" fill="#111">I</text>
<line x1="328.10" y1="128.60" x2="328.10" y2="172.80" stroke="#222" stroke-width="1.1"/>
<line x1="328.10" y1="172.80" x2="394.70" y2="172.80" stroke="#222" stroke-width="1.2"/>
<line x1="329.10" y1="172.80" x2="329.10" y2="174.30" stroke="#222" stroke-width="0.5"/>
<line x1="331.06" y1="172.80" x2="331.06" y2="174.30" stroke="#222" stroke-width="0.5"/>
<line x1="333.02" y1="172.80" x2="333.02" y2="174.30" stroke="#222" stroke-width="0.5"/>
<line x1="334.98" y1="172.80" x2="334.98" y2="174.30" stroke="#222" stroke-width="0.5"/>
<line x1="336.94" y1="172.80" x2="336.94" y2="174.30" stroke="#222" stroke-width="0.5"/>
<line x1="338.90" y1="172.80" x2="338.90" y2="174.30" stroke="#222" stroke-width="0.5"/>
<line x1="340.86" y1="172.80" x2="340.86" y2="174.30" stroke="#222" stroke-width="0.5"/>
<line x1="342.82" y1="172.80" x2="342.82" y2="174.30" stroke="#222" stroke-width="0.5"/>
<line x1="344.78" y1="172.80" x2="344.78" y2="174.30" stroke="#222" stroke-width="0.5"/>
<line x1="346.74" y1="172.80" x2="346.74" y2="174.30" stroke="#222" stroke-width="0.5"/>
<line x1="348.70" y1="172.80" x2="348.70" y2="174.30" stroke="#222" stroke-width="0.5"/>
<line x1="350.66" y1="172.80" x2="350.66" y2="174.30" stroke="#222" stroke-width="0.5"/>
<line x1="352.62" y1="172.80" x2="352.62" y2="174.30" stroke="#222" stroke-width="0.5"/>
<line x1="354.58" y1="172.80" x2="354.58" y2="174.30" stroke="#222" stroke-width="0.5"/>
<line x1="356.54" y1="172.80" x2="356.54" y2="174.30" stroke="#222" stroke-width="0.5"/>
<line x1="358.50" y1="172.80" x2="358.50" y2="174.30" stroke="#222" stroke-width="0.5"/>
<line x1="360.46" y1="172.80" x2="360.46" y2="174.30" stroke="#222" stroke-width="0.5"/>
<line x1="362.42" y1="172.80" x2="362.42" y2="174.30" stroke="#222" stroke-width="0.5"/>
<line x1="364.38" y1="172.80" x2="364.38" y2="174.30" stroke="#222" stroke-width="0.5"/>
<line x1="366.34" y1="172.80" x2="366.34" y2="174.30" stroke="#222" stroke-width="0.5"/>
<line x1="368.30" y1="172.80" x2="368.30" y2="174.30" stroke="#222" stroke-width="0.5"/>
<line x1="370.26" y1="172.80" x2="370.26" y2="174.30" stroke="#222" stroke-width="0.5"/>
<line x1="372.22" y1="172.80" x2="372.22" y2="174.30" stroke="#222" stroke-width="0.5"/>
<line x1="374.18" y1="172.80" x2="374.18" y2="174.30" stroke="#222" stroke-width="0.5"/>
<line x1="376.14" y1="172.80" x2="376.14" y2="174.30" stroke="#222" stroke-width="0.5"/>
<line x1="378.10" y1="172.80" x2="378.10" y2="174.30" stroke="#222" stroke-width="0.5"/>
<line x1="380.06" y1="172.80" x2="380.06" y2="174.30" stroke="#222" stroke-width="0.5"/>
<line x1="382.02" y1="172.80" x2="382.02" y2="174.30" stroke="#222" stroke-width="0.5"/>
<line x1="383.98" y1="172.80" x2="383.98" y2="174.30" stroke="#222" stroke-width="0.5"/>
<line x1="385.94" y1="172.80" x2="385.94" y2="174.30" stroke="#222" stroke-width="0.5"/>
<line x1="387.90" y1="172.80" x2="387.90" y2="174.30" stroke="#222" stroke-width="0.5"/>
<line x1="389.86" y1="172.80" x2="389.86" y2="174.30" stroke="#222" stroke-width="0.5"/>
<line x1="391.82" y1="172.80" x2="391.82" y2="174.30" stroke="#222" stroke-width="0.5"/>
<line x1="393.78" y1="172.80" x2="393.78" y2="174.30" stroke="#222" stroke-width="0.5"/>
<line x1="325.30" y1="172.80" x2="328.10" y2="172.80" stroke="#222" stroke-width="0.8"/>
<text x="322.10" y="174.80" font-size="5.8" text-anchor="end" fill="#262626">0</text>
<line x1="325.30" y1="164.26" x2="328.10" y2="164.26" stroke="#222" stroke-width="0.8"/>
<text x="322.10" y="166.26" font-size="5.8" text-anchor="end" fill="#262626">20</text>
<line x1="325.30" y1="155.72" x2="328.10" y2="155.72" stroke="#222" stroke-width="0.8"/>
<text x="322.10" y="157.72" font-size="5.8" text-anchor="end" fill="#262626">40</text>
<line x1="325.30" y1="147.18" x2="328.10" y2="147.18" stroke="#222" stroke-width="0.8"/>
<text x="322.10" y="149.18" font-size="5.8" text-anchor="end" fill="#262626">60</text>
<line x1="325.30" y1="138.64" x2="328.10" y2="138.64" stroke="#222" stroke-width="0.8"/>
<text x="322.10" y="140.64" font-size="5.8" text-anchor="end" fill="#262626">80</text>
<line x1="325.30" y1="130.10" x2="328.10" y2="130.10" stroke="#222" stroke-width="0.8"/>
<text x="322.10" y="132.10" font-size="5.8" text-anchor="end" fill="#262626">100</text>
<line x1="328.10" y1="172.80" x2="328.10" y2="175.20" stroke="#222" stroke-width="0.8"/>
<text x="328.10" y="184.30" font-size="5.8" text-anchor="middle" fill="#262626">0</text>
<line x1="354.85" y1="172.80" x2="354.85" y2="175.20" stroke="#222" stroke-width="0.8"/>
<text x="354.85" y="184.30" font-size="5.8" text-anchor="middle" fill="#262626">500</text>
<line x1="381.60" y1="172.80" x2="381.60" y2="175.20" stroke="#222" stroke-width="0.8"/>
<text x="381.60" y="184.30" font-size="5.8" text-anchor="middle" fill="#262626">1000</text>
<text x="361.30" y="194.50" font-size="7.6" text-anchor="middle" font-weight="bold" fill="#262626" textLength="31.3" lengthAdjust="spacingAndGlyphs">Days elapsed</text>
<text x="307.60" y="150.80" font-size="6.6" text-anchor="middle" font-weight="bold" fill="#262626" transform="rotate(-90 307.60 150.80)" class="r" textLength="47.5" lengthAdjust="spacingAndGlyphs">Overall survival (%)</text>
<text x="362.40" y="132.00" font-size="7.8" text-anchor="middle" font-style="italic" fill="#222">IPO13</text>
<text x="329.50" y="169.2" font-size="6.1" fill="#262626"><tspan font-style="italic">P</tspan> = .0004</text>
<path d="M328.10,130.10 L329.42,130.10 L329.42,131.12 L330.73,131.12 L330.73,132.15 L332.05,132.15 L332.05,133.17 L333.36,133.17 L333.36,134.20 L334.68,134.20 L334.68,135.22 L335.83,135.22 L335.83,136.25 L336.97,136.25 L336.97,137.27 L338.12,137.27 L338.12,138.30 L339.26,138.30 L339.26,139.32 L340.41,139.32 L340.41,140.35 L341.56,140.35 L341.56,141.46 L342.72,141.46 L342.72,142.57 L343.87,142.57 L343.87,143.68 L345.03,143.68 L345.03,144.79 L346.18,144.79 L346.18,145.90 L347.34,145.90 L347.34,146.92 L348.49,146.92 L348.49,147.95 L349.65,147.95 L349.65,148.97 L350.81,148.97 L350.81,150.00 L351.96,150.00 L351.96,151.02 L353.41,151.02 L353.41,152.22 L354.85,152.22 L354.85,153.41 L356.29,153.41 L356.29,154.61 L359.21,154.61 L359.21,155.66 L362.13,155.66 L362.13,156.70 L363.55,156.70 L363.55,157.66 L364.98,157.66 L364.98,158.61 L366.41,158.61 L366.41,159.56 L370.74,159.56 L370.74,161.10 L377.96,161.10 L377.96,161.78 L378.19,161.78 L378.19,162.99 L378.43,162.99 L378.43,164.20 L378.66,164.20 L378.66,165.41 L384.38,165.41 L384.38,165.41" stroke="#62c3dd" stroke-width="0.85" fill="none"/>
<path d="M328.10,130.10 L332.11,130.10 L332.11,131.51 L336.12,131.51 L336.12,132.92 L337.28,132.92 L337.28,133.93 L338.44,133.93 L338.44,134.95 L339.59,134.95 L339.59,135.97 L340.75,135.97 L340.75,136.98 L341.90,136.98 L341.90,138.00 L343.35,138.00 L343.35,139.00 L344.79,139.00 L344.79,140.00 L346.24,140.00 L346.24,141.00 L347.68,141.00 L347.68,142.00 L349.13,142.00 L349.13,143.00 L356.29,143.00 L356.29,143.76 L360.63,143.76 L360.63,144.49 L362.82,144.49 L362.82,145.56 L365.02,145.56 L365.02,146.62 L366.26,146.62 L366.26,147.72 L367.50,147.72 L367.50,148.82 L368.75,148.82 L368.75,149.92 L369.99,149.92 L369.99,151.02 L377.96,151.02 L377.96,151.02 L378.14,151.02 L378.14,152.09 L378.31,152.09 L378.31,153.16 L378.48,153.16 L378.48,154.23 L378.66,154.23 L378.66,155.29 L388.02,155.29 L388.02,155.29" stroke="#c84a5e" stroke-width="0.85" fill="none"/>
<line x1="317.40" y1="203.50" x2="325.20" y2="203.50" stroke="#a8d8e4" stroke-width="0.7"/>
<line x1="317.40" y1="210.50" x2="325.20" y2="210.50" stroke="#d89aa6" stroke-width="0.7"/>
<text x="327.90" y="205.4" font-size="5.85" fill="#262626">Low Expression (<tspan font-style="italic">n</tspan> = 164)</text>
<text x="327.90" y="212.4" font-size="5.85" fill="#262626">High Expression (<tspan font-style="italic">n</tspan> = 75)</text>
<text x="309.30" y="122.70" font-size="10.6" font-weight="bold" fill="#111">J</text>
<line x1="427.10" y1="128.60" x2="427.10" y2="172.80" stroke="#222" stroke-width="1.1"/>
<line x1="427.10" y1="172.80" x2="493.70" y2="172.80" stroke="#222" stroke-width="1.2"/>
<line x1="428.10" y1="172.80" x2="428.10" y2="174.30" stroke="#222" stroke-width="0.5"/>
<line x1="430.06" y1="172.80" x2="430.06" y2="174.30" stroke="#222" stroke-width="0.5"/>
<line x1="432.02" y1="172.80" x2="432.02" y2="174.30" stroke="#222" stroke-width="0.5"/>
<line x1="433.98" y1="172.80" x2="433.98" y2="174.30" stroke="#222" stroke-width="0.5"/>
<line x1="435.94" y1="172.80" x2="435.94" y2="174.30" stroke="#222" stroke-width="0.5"/>
<line x1="437.90" y1="172.80" x2="437.90" y2="174.30" stroke="#222" stroke-width="0.5"/>
<line x1="439.86" y1="172.80" x2="439.86" y2="174.30" stroke="#222" stroke-width="0.5"/>
<line x1="441.82" y1="172.80" x2="441.82" y2="174.30" stroke="#222" stroke-width="0.5"/>
<line x1="443.78" y1="172.80" x2="443.78" y2="174.30" stroke="#222" stroke-width="0.5"/>
<line x1="445.74" y1="172.80" x2="445.74" y2="174.30" stroke="#222" stroke-width="0.5"/>
<line x1="447.70" y1="172.80" x2="447.70" y2="174.30" stroke="#222" stroke-width="0.5"/>
<line x1="449.66" y1="172.80" x2="449.66" y2="174.30" stroke="#222" stroke-width="0.5"/>
<line x1="451.62" y1="172.80" x2="451.62" y2="174.30" stroke="#222" stroke-width="0.5"/>
<line x1="453.58" y1="172.80" x2="453.58" y2="174.30" stroke="#222" stroke-width="0.5"/>
<line x1="455.54" y1="172.80" x2="455.54" y2="174.30" stroke="#222" stroke-width="0.5"/>
<line x1="457.50" y1="172.80" x2="457.50" y2="174.30" stroke="#222" stroke-width="0.5"/>
<line x1="459.46" y1="172.80" x2="459.46" y2="174.30" stroke="#222" stroke-width="0.5"/>
<line x1="461.42" y1="172.80" x2="461.42" y2="174.30" stroke="#222" stroke-width="0.5"/>
<line x1="463.38" y1="172.80" x2="463.38" y2="174.30" stroke="#222" stroke-width="0.5"/>
<line x1="465.34" y1="172.80" x2="465.34" y2="174.30" stroke="#222" stroke-width="0.5"/>
<line x1="467.30" y1="172.80" x2="467.30" y2="174.30" stroke="#222" stroke-width="0.5"/>
<line x1="469.26" y1="172.80" x2="469.26" y2="174.30" stroke="#222" stroke-width="0.5"/>
<line x1="471.22" y1="172.80" x2="471.22" y2="174.30" stroke="#222" stroke-width="0.5"/>
<line x1="473.18" y1="172.80" x2="473.18" y2="174.30" stroke="#222" stroke-width="0.5"/>
<line x1="475.14" y1="172.80" x2="475.14" y2="174.30" stroke="#222" stroke-width="0.5"/>
<line x1="477.10" y1="172.80" x2="477.10" y2="174.30" stroke="#222" stroke-width="0.5"/>
<line x1="479.06" y1="172.80" x2="479.06" y2="174.30" stroke="#222" stroke-width="0.5"/>
<line x1="481.02" y1="172.80" x2="481.02" y2="174.30" stroke="#222" stroke-width="0.5"/>
<line x1="482.98" y1="172.80" x2="482.98" y2="174.30" stroke="#222" stroke-width="0.5"/>
<line x1="484.94" y1="172.80" x2="484.94" y2="174.30" stroke="#222" stroke-width="0.5"/>
<line x1="486.90" y1="172.80" x2="486.90" y2="174.30" stroke="#222" stroke-width="0.5"/>
<line x1="488.86" y1="172.80" x2="488.86" y2="174.30" stroke="#222" stroke-width="0.5"/>
<line x1="490.82" y1="172.80" x2="490.82" y2="174.30" stroke="#222" stroke-width="0.5"/>
<line x1="492.78" y1="172.80" x2="492.78" y2="174.30" stroke="#222" stroke-width="0.5"/>
<line x1="424.30" y1="172.80" x2="427.10" y2="172.80" stroke="#222" stroke-width="0.8"/>
<text x="421.10" y="174.80" font-size="5.8" text-anchor="end" fill="#262626">0</text>
<line x1="424.30" y1="164.26" x2="427.10" y2="164.26" stroke="#222" stroke-width="0.8"/>
<text x="421.10" y="166.26" font-size="5.8" text-anchor="end" fill="#262626">20</text>
<line x1="424.30" y1="155.72" x2="427.10" y2="155.72" stroke="#222" stroke-width="0.8"/>
<text x="421.10" y="157.72" font-size="5.8" text-anchor="end" fill="#262626">40</text>
<line x1="424.30" y1="147.18" x2="427.10" y2="147.18" stroke="#222" stroke-width="0.8"/>
<text x="421.10" y="149.18" font-size="5.8" text-anchor="end" fill="#262626">60</text>
<line x1="424.30" y1="138.64" x2="427.10" y2="138.64" stroke="#222" stroke-width="0.8"/>
<text x="421.10" y="140.64" font-size="5.8" text-anchor="end" fill="#262626">80</text>
<line x1="424.30" y1="130.10" x2="427.10" y2="130.10" stroke="#222" stroke-width="0.8"/>
<text x="421.10" y="132.10" font-size="5.8" text-anchor="end" fill="#262626">100</text>
<line x1="427.10" y1="172.80" x2="427.10" y2="175.20" stroke="#222" stroke-width="0.8"/>
<text x="427.10" y="184.30" font-size="5.8" text-anchor="middle" fill="#262626">0</text>
<line x1="453.85" y1="172.80" x2="453.85" y2="175.20" stroke="#222" stroke-width="0.8"/>
<text x="453.85" y="184.30" font-size="5.8" text-anchor="middle" fill="#262626">500</text>
<line x1="480.60" y1="172.80" x2="480.60" y2="175.20" stroke="#222" stroke-width="0.8"/>
<text x="480.60" y="184.30" font-size="5.8" text-anchor="middle" fill="#262626">1000</text>
<text x="460.30" y="194.50" font-size="7.6" text-anchor="middle" font-weight="bold" fill="#262626" textLength="31.3" lengthAdjust="spacingAndGlyphs">Days elapsed</text>
<text x="406.60" y="150.80" font-size="6.6" text-anchor="middle" font-weight="bold" fill="#262626" transform="rotate(-90 406.60 150.80)" class="r" textLength="47.5" lengthAdjust="spacingAndGlyphs">Overall survival (%)</text>
<text x="461.40" y="132.00" font-size="7.8" text-anchor="middle" font-style="italic" fill="#222">PTPRT</text>
<text x="428.50" y="169.2" font-size="6.1" fill="#262626"><tspan font-style="italic">P</tspan> &lt; .0001</text>
<path d="M427.10,130.10 L427.99,130.10 L427.99,131.05 L428.88,131.05 L428.88,132.00 L429.78,132.00 L429.78,132.95 L430.67,132.95 L430.67,133.90 L431.56,133.90 L431.56,134.84 L432.45,134.84 L432.45,135.79 L433.34,135.79 L433.34,136.74 L434.23,136.74 L434.23,137.69 L435.12,137.69 L435.12,138.64 L435.74,138.64 L435.74,139.58 L436.35,139.58 L436.35,140.52 L436.96,140.52 L436.96,141.46 L437.57,141.46 L437.57,142.40 L438.18,142.40 L438.18,143.34 L438.79,143.34 L438.79,144.28 L439.41,144.28 L439.41,145.22 L440.14,145.22 L440.14,146.18 L440.87,146.18 L440.87,147.15 L441.60,147.15 L441.60,148.12 L442.33,148.12 L442.33,149.09 L443.06,149.09 L443.06,150.06 L443.79,150.06 L443.79,151.02 L444.88,151.02 L444.88,152.09 L445.96,152.09 L445.96,153.16 L447.04,153.16 L447.04,154.23 L448.13,154.23 L448.13,155.29 L450.05,155.29 L450.05,156.49 L451.98,156.49 L451.98,157.68 L453.90,157.68 L453.90,158.88 L455.81,158.88 L455.81,159.85 L457.72,159.85 L457.72,160.82 L459.63,160.82 L459.63,161.78 L461.42,161.78 L461.42,162.86 L463.21,162.86 L463.21,163.94 L465.00,163.94 L465.00,165.02 L466.80,165.02 L466.80,166.10 L478.41,166.10 L478.41,166.10 L478.52,166.10 L478.52,167.12 L478.64,167.12 L478.64,168.15 L478.76,168.15 L478.76,169.17 L478.88,169.17 L478.88,170.20 L479.00,170.20 L479.00,171.22 L484.18,171.22 L484.18,171.22" stroke="#62c3dd" stroke-width="0.85" fill="none"/>
<path d="M427.10,130.10 L429.15,130.10 L429.15,131.05 L431.20,131.05 L431.20,132.01 L433.25,132.01 L433.25,132.96 L435.30,132.96 L435.30,133.91 L437.35,133.91 L437.35,134.87 L439.41,134.87 L439.41,135.82 L440.85,135.82 L440.85,136.84 L442.29,136.84 L442.29,137.85 L443.74,137.85 L443.74,138.87 L445.18,138.87 L445.18,139.89 L446.63,139.89 L446.63,140.90 L448.08,140.90 L448.08,141.90 L449.54,141.90 L449.54,142.90 L450.99,142.90 L450.99,143.90 L452.45,143.90 L452.45,144.90 L453.90,144.90 L453.90,145.90 L455.81,145.90 L455.81,147.09 L457.72,147.09 L457.72,148.29 L459.63,148.29 L459.63,149.49 L463.96,149.49 L463.96,151.02 L465.41,151.02 L465.41,152.22 L466.85,152.22 L466.85,153.41 L468.30,153.41 L468.30,154.61 L472.63,154.61 L472.63,156.02 L478.41,156.02 L478.41,156.02 L478.60,156.02 L478.60,157.21 L478.80,157.21 L478.80,158.41 L479.00,158.41 L479.00,159.61 L487.82,159.61 L487.82,159.61" stroke="#c84a5e" stroke-width="0.85" fill="none"/>
<line x1="415.30" y1="203.50" x2="423.10" y2="203.50" stroke="#a8d8e4" stroke-width="0.7"/>
<line x1="415.30" y1="210.50" x2="423.10" y2="210.50" stroke="#d89aa6" stroke-width="0.7"/>
<text x="425.80" y="205.4" font-size="5.85" fill="#262626">Low Expression (<tspan font-style="italic">n</tspan> = 37)</text>
<text x="425.80" y="212.4" font-size="5.85" fill="#262626">High Expression (<tspan font-style="italic">n</tspan> = 202)</text>
<text x="405.80" y="122.70" font-size="10.6" font-weight="bold" fill="#111">K</text>
<text x="6.60" y="230.60" font-size="10.6" font-weight="bold" fill="#111">L</text>
<line x1="39.80" y1="232.10" x2="39.80" y2="279.00" stroke="#222" stroke-width="1.1"/>
<line x1="39.30" y1="279.00" x2="66.60" y2="279.00" stroke="#222" stroke-width="1.1"/>
<line x1="37.40" y1="234.90" x2="39.80" y2="234.90" stroke="#222" stroke-width="0.8"/>
<text x="34.40" y="236.90" font-size="5.7" text-anchor="end" fill="#262626">25</text>
<line x1="37.40" y1="243.72" x2="39.80" y2="243.72" stroke="#222" stroke-width="0.8"/>
<text x="34.40" y="245.72" font-size="5.7" text-anchor="end" fill="#262626">20</text>
<line x1="37.40" y1="252.54" x2="39.80" y2="252.54" stroke="#222" stroke-width="0.8"/>
<text x="34.40" y="254.54" font-size="5.7" text-anchor="end" fill="#262626">15</text>
<line x1="37.40" y1="261.36" x2="39.80" y2="261.36" stroke="#222" stroke-width="0.8"/>
<text x="34.40" y="263.36" font-size="5.7" text-anchor="end" fill="#262626">10</text>
<line x1="37.40" y1="270.18" x2="39.80" y2="270.18" stroke="#222" stroke-width="0.8"/>
<text x="34.40" y="272.18" font-size="5.7" text-anchor="end" fill="#262626">5</text>
<line x1="37.40" y1="279.00" x2="39.80" y2="279.00" stroke="#222" stroke-width="0.8"/>
<text x="34.40" y="281.00" font-size="5.7" text-anchor="end" fill="#262626">0</text>
<rect x="44.10" y="248.48" width="7.80" height="30.52" fill="#c4c4cc"/>
<line x1="48.00" y1="244.95" x2="48.00" y2="249.98" stroke="#333" stroke-width="0.85"/>
<line x1="47.10" y1="244.95" x2="48.90" y2="244.95" stroke="#333" stroke-width="0.6"/>
<rect x="55.90" y="241.60" width="8.10" height="37.40" fill="#185a8e"/>
<line x1="59.95" y1="238.08" x2="59.95" y2="243.10" stroke="#333" stroke-width="0.85"/>
<line x1="59.05" y1="238.08" x2="60.85" y2="238.08" stroke="#333" stroke-width="0.6"/>
<line x1="48.50" y1="236.60" x2="60.20" y2="236.60" stroke="#3a3a3a" stroke-width="0.9"/>
<text x="54.35" y="236.20" font-size="5.2" text-anchor="middle" fill="#262626">*</text>
<text x="48.20" y="288.20" font-size="6.2" text-anchor="middle" font-style="italic" fill="#262626">NR</text>
<text x="60.30" y="288.20" font-size="6.2" text-anchor="middle" font-style="italic" fill="#262626">R</text>
<text x="12.90" y="256.20" font-size="6.1" text-anchor="middle" fill="#262626" textLength="43.5" lengthAdjust="spacingAndGlyphs" class="r" transform="rotate(-90 12.90 256.20)"><tspan font-style="italic">GATA4</tspan> expression</text>
<text x="22.60" y="256.20" font-size="6.1" text-anchor="middle" fill="#262626" transform="rotate(-90 22.60 256.20)" class="r" textLength="42.0" lengthAdjust="spacingAndGlyphs">signal (GSE9782)</text>
<text x="93.00" y="230.60" font-size="10.6" font-weight="bold" fill="#111">M</text>
<line x1="129.30" y1="231.85" x2="129.30" y2="279.00" stroke="#222" stroke-width="1.1"/>
<line x1="128.80" y1="279.00" x2="159.60" y2="279.00" stroke="#222" stroke-width="1.1"/>
<line x1="126.90" y1="232.35" x2="129.30" y2="232.35" stroke="#222" stroke-width="0.8"/>
<line x1="126.90" y1="247.90" x2="129.30" y2="247.90" stroke="#222" stroke-width="0.8"/>
<text x="123.90" y="249.90" font-size="5.7" text-anchor="end" fill="#262626">100</text>
<line x1="126.90" y1="263.45" x2="129.30" y2="263.45" stroke="#222" stroke-width="0.8"/>
<text x="123.90" y="265.45" font-size="5.7" text-anchor="end" fill="#262626">50</text>
<line x1="126.90" y1="279.00" x2="129.30" y2="279.00" stroke="#222" stroke-width="0.8"/>
<text x="123.90" y="281.00" font-size="5.7" text-anchor="end" fill="#262626">0</text>
<rect x="134.20" y="250.70" width="7.80" height="28.30" fill="#c4c4cc"/>
<line x1="138.10" y1="247.59" x2="138.10" y2="252.20" stroke="#333" stroke-width="0.85"/>
<line x1="137.20" y1="247.59" x2="139.00" y2="247.59" stroke="#333" stroke-width="0.6"/>
<rect x="147.20" y="246.03" width="8.10" height="32.97" fill="#185a8e"/>
<line x1="151.25" y1="242.92" x2="151.25" y2="247.53" stroke="#333" stroke-width="0.85"/>
<line x1="150.35" y1="242.92" x2="152.15" y2="242.92" stroke="#333" stroke-width="0.6"/>
<line x1="138.00" y1="237.50" x2="151.00" y2="237.50" stroke="#3a3a3a" stroke-width="0.9"/>
<text x="144.50" y="237.10" font-size="5.2" text-anchor="middle" fill="#262626">**</text>
<text x="138.30" y="288.20" font-size="6.2" text-anchor="middle" font-style="italic" fill="#262626">NR</text>
<text x="151.30" y="288.20" font-size="6.2" text-anchor="middle" font-style="italic" fill="#262626">R</text>
<text x="100.80" y="255.50" font-size="6.1" text-anchor="middle" fill="#262626" textLength="41.5" lengthAdjust="spacingAndGlyphs" class="r" transform="rotate(-90 100.80 255.50)"><tspan font-style="italic">DCN</tspan> expression</text>
<text x="108.60" y="255.50" font-size="6.1" text-anchor="middle" fill="#262626" transform="rotate(-90 108.60 255.50)" class="r" textLength="42.5" lengthAdjust="spacingAndGlyphs">signal (GSE9782)</text>
<text x="6.60" y="295.70" font-size="10.6" font-weight="bold" fill="#111">N</text>
<line x1="40.90" y1="302.60" x2="40.90" y2="352.20" stroke="#222" stroke-width="1.1"/>
<line x1="40.40" y1="352.20" x2="69.20" y2="352.20" stroke="#222" stroke-width="1.1"/>
<line x1="38.50" y1="305.40" x2="40.90" y2="305.40" stroke="#222" stroke-width="0.8"/>
<text x="35.50" y="307.40" font-size="5.7" text-anchor="end" fill="#262626">150</text>
<line x1="38.50" y1="321.00" x2="40.90" y2="321.00" stroke="#222" stroke-width="0.8"/>
<text x="35.50" y="323.00" font-size="5.7" text-anchor="end" fill="#262626">100</text>
<line x1="38.50" y1="336.60" x2="40.90" y2="336.60" stroke="#222" stroke-width="0.8"/>
<text x="35.50" y="338.60" font-size="5.7" text-anchor="end" fill="#262626">50</text>
<line x1="38.50" y1="352.20" x2="40.90" y2="352.20" stroke="#222" stroke-width="0.8"/>
<text x="35.50" y="354.20" font-size="5.7" text-anchor="end" fill="#262626">0</text>
<rect x="45.90" y="332.23" width="8.10" height="19.97" fill="#c4c4cc"/>
<line x1="49.95" y1="329.42" x2="49.95" y2="333.73" stroke="#333" stroke-width="0.85"/>
<line x1="49.05" y1="329.42" x2="50.85" y2="329.42" stroke="#333" stroke-width="0.6"/>
<rect x="58.80" y="319.75" width="8.40" height="32.45" fill="#185a8e"/>
<line x1="63.00" y1="316.63" x2="63.00" y2="321.25" stroke="#333" stroke-width="0.85"/>
<line x1="62.10" y1="316.63" x2="63.90" y2="316.63" stroke="#333" stroke-width="0.6"/>
<line x1="50.20" y1="310.60" x2="63.70" y2="310.60" stroke="#3a3a3a" stroke-width="0.9"/>
<text x="56.95" y="310.20" font-size="5.2" text-anchor="middle" fill="#262626">***</text>
<text x="50.40" y="360.60" font-size="6.2" text-anchor="middle" font-style="italic" fill="#262626">NR</text>
<text x="63.50" y="360.60" font-size="6.2" text-anchor="middle" font-style="italic" fill="#262626">R</text>
<text x="13.00" y="327.40" font-size="6.1" text-anchor="middle" fill="#262626" textLength="51.0" lengthAdjust="spacingAndGlyphs" class="r" transform="rotate(-90 13.00 327.40)"><tspan font-style="italic">PLEKHO1</tspan> expression</text>
<text x="22.80" y="327.40" font-size="6.1" text-anchor="middle" fill="#262626" transform="rotate(-90 22.80 327.40)" class="r" textLength="42.0" lengthAdjust="spacingAndGlyphs">signal (GSE9782)</text>
<text x="92.80" y="296.20" font-size="10.6" font-weight="bold" fill="#111">O</text>
<line x1="133.10" y1="304.40" x2="133.10" y2="352.20" stroke="#222" stroke-width="1.1"/>
<line x1="132.60" y1="352.20" x2="161.00" y2="352.20" stroke="#222" stroke-width="1.1"/>
<line x1="130.70" y1="307.20" x2="133.10" y2="307.20" stroke="#222" stroke-width="0.8"/>
<text x="127.70" y="309.20" font-size="5.7" text-anchor="end" fill="#262626">300</text>
<line x1="130.70" y1="322.20" x2="133.10" y2="322.20" stroke="#222" stroke-width="0.8"/>
<text x="127.70" y="324.20" font-size="5.7" text-anchor="end" fill="#262626">200</text>
<line x1="130.70" y1="337.20" x2="133.10" y2="337.20" stroke="#222" stroke-width="0.8"/>
<text x="127.70" y="339.20" font-size="5.7" text-anchor="end" fill="#262626">100</text>
<line x1="130.70" y1="352.20" x2="133.10" y2="352.20" stroke="#222" stroke-width="0.8"/>
<text x="127.70" y="354.20" font-size="5.7" text-anchor="end" fill="#262626">0</text>
<rect x="137.70" y="313.20" width="8.00" height="39.00" fill="#c4c4cc"/>
<line x1="141.70" y1="312.75" x2="141.70" y2="314.70" stroke="#333" stroke-width="0.85"/>
<line x1="140.80" y1="312.75" x2="142.60" y2="312.75" stroke="#333" stroke-width="0.6"/>
<rect x="151.10" y="310.95" width="8.70" height="41.25" fill="#185a8e"/>
<line x1="155.45" y1="309.00" x2="155.45" y2="312.45" stroke="#333" stroke-width="0.85"/>
<line x1="154.55" y1="309.00" x2="156.35" y2="309.00" stroke="#333" stroke-width="0.6"/>
<line x1="142.20" y1="308.10" x2="154.80" y2="308.10" stroke="#3a3a3a" stroke-width="0.9"/>
<text x="148.50" y="307.70" font-size="5.2" text-anchor="middle" fill="#262626"></text>
<text x="146.50" y="306.00" font-size="6.0" text-anchor="middle" fill="#262626">0.0972</text>
<text x="142.40" y="360.60" font-size="6.2" text-anchor="middle" font-style="italic" fill="#262626">NR</text>
<text x="154.80" y="360.60" font-size="6.2" text-anchor="middle" font-style="italic" fill="#262626">R</text>
<text x="99.80" y="329.50" font-size="6.1" text-anchor="middle" fill="#262626" textLength="43.5" lengthAdjust="spacingAndGlyphs" class="r" transform="rotate(-90 99.80 329.50)"><tspan font-style="italic">IPO13</tspan> expression</text>
<text x="109.20" y="329.50" font-size="6.1" text-anchor="middle" fill="#262626" transform="rotate(-90 109.20 329.50)" class="r" textLength="42.0" lengthAdjust="spacingAndGlyphs">signal (GSE9782)</text>
<text x="184.00" y="230.60" font-size="10.6" font-weight="bold" fill="#111">P</text>
<defs><filter id="bl" x="-20%" y="-80%" width="140%" height="260%"><feGaussianBlur stdDeviation="0.45"/></filter></defs>
<text x="237.30" y="236.60" font-size="5.8" text-anchor="middle" fill="#262626">INA-6</text>
<line x1="214.60" y1="238.70" x2="260.30" y2="238.70" stroke="#555" stroke-width="0.7"/>
<text x="206.90" y="246.20" font-size="6.0" fill="#262626" textLength="66.8" lengthAdjust="spacingAndGlyphs">Ctrl A366 Aza A366+Aza</text>
<rect x="212.50" y="250.00" width="46.50" height="9.80" fill="#f2f2f2" stroke="#7a7a7a" stroke-width="0.6"/>
<rect x="215.90" y="253.45" width="8.00" height="1.50" rx="0.75" fill="rgb(31,31,31)" filter="url(#bl)"/>
<rect x="227.10" y="254.10" width="8.00" height="1.40" rx="0.70" fill="rgb(221,221,221)" filter="url(#bl)"/>
<rect x="238.40" y="254.40" width="8.00" height="1.60" rx="0.80" fill="rgb(77,77,77)" filter="url(#bl)"/>
<rect x="250.30" y="254.80" width="6.00" height="1.40" rx="0.70" fill="rgb(134,134,134)" filter="url(#bl)"/>
<text x="209.60" y="256.20" font-size="5.9" text-anchor="end" fill="#262626">H3K9me1</text>
<text x="261.20" y="256.60" font-size="5.9" fill="#262626">&#8211; 15 kDa</text>
<rect x="212.50" y="262.50" width="46.50" height="10.00" fill="#f2f2f2" stroke="#7a7a7a" stroke-width="0.6"/>
<path d="M215.40,263.74 L224.40,264.46 L224.40,266.46 L215.40,265.74 Z" fill="rgb(8,8,8)" filter="url(#bl)"/>
<path d="M226.60,265.04 L235.60,265.76 L235.60,267.76 L226.60,267.04 Z" fill="rgb(19,19,19)" filter="url(#bl)"/>
<path d="M238.15,266.26 L246.65,266.94 L246.65,268.94 L238.15,268.26 Z" fill="rgb(19,19,19)" filter="url(#bl)"/>
<path d="M249.30,267.48 L257.30,268.12 L257.30,270.12 L249.30,269.48 Z" fill="rgb(8,8,8)" filter="url(#bl)"/>
<text x="209.60" y="269.50" font-size="5.9" text-anchor="end" fill="#262626">H4</text>
<text x="261.20" y="269.90" font-size="5.9" fill="#262626">&#8211; 14 kDa</text>
<rect x="212.50" y="274.50" width="46.50" height="10.00" fill="#f2f2f2" stroke="#7a7a7a" stroke-width="0.6"/>
<rect x="216.15" y="279.20" width="7.50" height="2.60" rx="1.20" fill="rgb(8,8,8)" filter="url(#bl)"/>
<rect x="228.10" y="279.60" width="6.00" height="1.20" rx="0.60" fill="rgb(134,134,134)" filter="url(#bl)"/>
<path d="M239.65,278.47 L245.15,278.13 L245.15,279.53 L239.65,279.87 Z" fill="rgb(77,77,77)" filter="url(#bl)"/>
<path d="M250.30,277.38 L256.30,277.02 L256.30,278.22 L250.30,278.58 Z" fill="rgb(192,192,192)" filter="url(#bl)"/>
<text x="209.60" y="282.80" font-size="5.9" text-anchor="end" fill="#262626">H3K9me2</text>
<text x="261.20" y="283.20" font-size="5.9" fill="#262626">&#8211; 15 kDa</text>
<rect x="212.50" y="287.50" width="46.50" height="10.00" fill="#f2f2f2" stroke="#7a7a7a" stroke-width="0.6"/>
<path d="M215.40,293.29 L224.40,293.11 L224.40,294.71 L215.40,294.89 Z" fill="rgb(26,26,26)" filter="url(#bl)"/>
<path d="M227.10,292.87 L235.10,292.63 L235.10,294.13 L227.10,294.37 Z" fill="rgb(35,35,35)" filter="url(#bl)"/>
<path d="M238.65,291.82 L246.15,291.37 L246.15,292.97 L238.65,293.43 Z" fill="rgb(31,31,31)" filter="url(#bl)"/>
<path d="M249.30,290.40 L257.30,289.60 L257.30,291.20 L249.30,292.00 Z" fill="rgb(26,26,26)" filter="url(#bl)"/>
<text x="209.60" y="295.70" font-size="5.9" text-anchor="end" fill="#262626">H4</text>
<text x="261.20" y="296.10" font-size="5.9" fill="#262626">&#8211; 14 kDa</text>
<rect x="212.50" y="300.00" width="46.50" height="11.20" fill="#f2f2f2" stroke="#7a7a7a" stroke-width="0.6"/>
<rect x="215.90" y="303.10" width="8.00" height="3.80" rx="1.20" fill="rgb(95,95,95)" filter="url(#bl)"/>
<rect x="227.30" y="303.10" width="7.60" height="4.60" rx="1.20" fill="rgb(14,14,14)" filter="url(#bl)"/>
<rect x="238.50" y="304.20" width="7.80" height="3.40" rx="1.20" fill="rgb(72,72,72)" filter="url(#bl)"/>
<rect x="249.50" y="304.00" width="7.60" height="4.00" rx="1.20" fill="rgb(19,19,19)" filter="url(#bl)"/>
<text x="209.60" y="308.80" font-size="5.9" text-anchor="end" fill="#262626">G9a</text>
<text x="261.20" y="309.20" font-size="5.9" fill="#262626">&#8211; 138 kDa</text>
<rect x="212.50" y="314.00" width="46.50" height="10.40" fill="#f2f2f2" stroke="#7a7a7a" stroke-width="0.6"/>
<rect x="215.40" y="318.20" width="9.00" height="1.60" rx="0.80" fill="rgb(65,65,65)" filter="url(#bl)"/>
<rect x="226.85" y="318.30" width="8.50" height="1.60" rx="0.80" fill="rgb(65,65,65)" filter="url(#bl)"/>
<rect x="238.15" y="318.40" width="8.50" height="1.80" rx="0.90" fill="rgb(35,35,35)" filter="url(#bl)"/>
<rect x="249.30" y="318.80" width="8.00" height="1.80" rx="0.90" fill="rgb(42,42,42)" filter="url(#bl)"/>
<text x="209.60" y="321.70" font-size="5.9" text-anchor="end" fill="#262626">Actin</text>
<text x="261.20" y="322.10" font-size="5.9" fill="#262626">&#8211; 42 kDa</text>
<rect x="212.50" y="327.00" width="46.50" height="11.60" fill="#f2f2f2" stroke="#7a7a7a" stroke-width="0.6"/>
<rect x="215.65" y="331.30" width="8.50" height="2.60" rx="1.20" fill="rgb(8,8,8)" filter="url(#bl)"/>
<rect x="226.85" y="331.30" width="8.50" height="2.60" rx="1.20" fill="rgb(8,8,8)" filter="url(#bl)"/>
<rect x="238.65" y="332.00" width="7.50" height="1.80" rx="0.90" fill="rgb(146,146,146)" filter="url(#bl)"/>
<rect x="249.80" y="332.00" width="7.00" height="1.80" rx="0.90" fill="rgb(146,146,146)" filter="url(#bl)"/>
<text x="209.60" y="334.60" font-size="5.9" text-anchor="end" fill="#262626">DNMT1</text>
<text x="261.20" y="335.00" font-size="5.9" fill="#262626">&#8211; 183 kDa</text>
<rect x="212.50" y="340.50" width="46.50" height="10.40" fill="#f2f2f2" stroke="#7a7a7a" stroke-width="0.6"/>
<path d="M215.15,343.81 L224.65,344.09 L224.65,345.79 L215.15,345.51 Z" fill="rgb(19,19,19)" filter="url(#bl)"/>
<rect x="226.85" y="345.00" width="8.50" height="1.60" rx="0.80" fill="rgb(35,35,35)" filter="url(#bl)"/>
<rect x="238.15" y="345.20" width="8.50" height="1.60" rx="0.80" fill="rgb(42,42,42)" filter="url(#bl)"/>
<rect x="249.30" y="345.45" width="8.00" height="1.50" rx="0.75" fill="rgb(134,134,134)" filter="url(#bl)"/>
<text x="209.60" y="347.50" font-size="5.9" text-anchor="end" fill="#262626">Actin</text>
<text x="261.20" y="347.90" font-size="5.9" fill="#262626">&#8211; 42 kDa</text>
<text x="343.40" y="233.30" font-size="5.8" text-anchor="middle" fill="#262626">INA-6</text>
<line x1="321.50" y1="235.20" x2="368.00" y2="235.20" stroke="#555" stroke-width="0.7"/>
<text x="310.00" y="241.90" font-size="6.0" fill="#262626" textLength="65.4" lengthAdjust="spacingAndGlyphs">Ctrl A366 Aza A366+Aza</text>
<rect x="320.00" y="245.00" width="45.30" height="11.00" fill="#f2f2f2" stroke="#7a7a7a" stroke-width="0.6"/>
<path d="M323.90,250.88 L330.90,250.32 L330.90,251.92 L323.90,252.48 Z" fill="rgb(65,65,65)" filter="url(#bl)"/>
<path d="M334.65,249.69 L342.15,249.31 L342.15,250.71 L334.65,251.09 Z" fill="rgb(210,210,210)" filter="url(#bl)"/>
<path d="M345.65,248.50 L353.15,247.90 L353.15,249.90 L345.65,250.50 Z" fill="rgb(8,8,8)" filter="url(#bl)"/>
<path d="M356.25,247.28 L363.75,246.53 L363.75,248.72 L356.25,249.47 Z" fill="rgb(8,8,8)" filter="url(#bl)"/>
<text x="316.70" y="253.60" font-size="5.9" text-anchor="end" fill="#262626">&#947;H2AX</text>
<text x="367.60" y="252.80" font-size="5.9" fill="#262626">&#8211; 15 kDa</text>
<rect x="320.00" y="258.50" width="45.30" height="10.00" fill="#f2f2f2" stroke="#7a7a7a" stroke-width="0.6"/>
<path d="M322.65,262.74 L332.15,262.26 L332.15,264.26 L322.65,264.74 Z" fill="rgb(8,8,8)" filter="url(#bl)"/>
<path d="M334.15,262.06 L342.65,261.55 L342.65,263.55 L334.15,264.06 Z" fill="rgb(19,19,19)" filter="url(#bl)"/>
<path d="M345.65,261.33 L353.15,260.88 L353.15,262.67 L345.65,263.12 Z" fill="rgb(42,42,42)" filter="url(#bl)"/>
<path d="M356.25,260.38 L363.75,259.62 L363.75,261.62 L356.25,262.38 Z" fill="rgb(8,8,8)" filter="url(#bl)"/>
<text x="316.70" y="266.70" font-size="5.9" text-anchor="end" fill="#262626">H4</text>
<text x="367.60" y="265.90" font-size="5.9" fill="#262626">&#8211; 14 kDa</text>
<rect x="320.00" y="274.50" width="45.30" height="10.00" fill="#f2f2f2" stroke="#7a7a7a" stroke-width="0.6"/>
<rect x="323.40" y="279.50" width="8.00" height="2.00" rx="1.00" fill="rgb(8,8,8)" filter="url(#bl)"/>
<rect x="334.40" y="279.50" width="8.00" height="2.00" rx="1.00" fill="rgb(12,12,12)" filter="url(#bl)"/>
<rect x="345.65" y="279.70" width="7.50" height="1.80" rx="0.90" fill="rgb(54,54,54)" filter="url(#bl)"/>
<rect x="356.00" y="279.90" width="8.00" height="1.60" rx="0.80" fill="rgb(157,157,157)" filter="url(#bl)"/>
<text x="316.70" y="279.90" font-size="5.9" text-anchor="end" fill="#262626">C-Myc</text>
<text x="367.60" y="279.10" font-size="5.9" fill="#262626">&#8211; 62 kDa</text>
<rect x="320.00" y="288.50" width="45.30" height="10.50" fill="#f2f2f2" stroke="#7a7a7a" stroke-width="0.6"/>
<rect x="323.40" y="293.00" width="8.00" height="2.00" rx="1.00" fill="rgb(49,49,49)" filter="url(#bl)"/>
<rect x="334.15" y="293.15" width="8.50" height="1.90" rx="0.95" fill="rgb(54,54,54)" filter="url(#bl)"/>
<rect x="345.40" y="293.30" width="8.00" height="1.80" rx="0.90" fill="rgb(77,77,77)" filter="url(#bl)"/>
<rect x="356.00" y="293.40" width="8.00" height="1.80" rx="0.90" fill="rgb(95,95,95)" filter="url(#bl)"/>
<text x="316.70" y="293.50" font-size="5.9" text-anchor="end" fill="#262626">Actin</text>
<text x="367.60" y="292.70" font-size="5.9" fill="#262626">&#8211; 42 kDa</text>
<rect x="320.00" y="302.50" width="45.30" height="11.00" fill="#f2f2f2" stroke="#7a7a7a" stroke-width="0.6"/>
<rect x="323.15" y="306.50" width="8.50" height="2.60" rx="1.20" fill="rgb(8,8,8)" filter="url(#bl)"/>
<rect x="334.40" y="306.55" width="8.00" height="2.30" rx="1.15" fill="rgb(12,12,12)" filter="url(#bl)"/>
<rect x="345.40" y="306.40" width="8.00" height="2.00" rx="1.00" fill="rgb(19,19,19)" filter="url(#bl)"/>
<rect x="355.75" y="306.60" width="8.50" height="1.80" rx="0.90" fill="rgb(141,141,141)" filter="url(#bl)"/>
<text x="316.70" y="307.10" font-size="5.9" text-anchor="end" fill="#262626">IRF4</text>
<text x="367.60" y="306.30" font-size="5.9" fill="#262626">&#8211; 52 kDa</text>
<rect x="320.00" y="315.50" width="45.30" height="10.50" fill="#f2f2f2" stroke="#7a7a7a" stroke-width="0.6"/>
<rect x="323.15" y="320.90" width="8.50" height="1.60" rx="0.80" fill="rgb(31,31,31)" filter="url(#bl)"/>
<rect x="334.15" y="320.80" width="8.50" height="1.60" rx="0.80" fill="rgb(31,31,31)" filter="url(#bl)"/>
<rect x="345.40" y="320.80" width="8.00" height="1.60" rx="0.80" fill="rgb(31,31,31)" filter="url(#bl)"/>
<rect x="356.00" y="320.80" width="8.00" height="1.60" rx="0.80" fill="rgb(31,31,31)" filter="url(#bl)"/>
<text x="316.70" y="320.20" font-size="5.9" text-anchor="end" fill="#262626">Actin</text>
<text x="367.60" y="319.40" font-size="5.9" fill="#262626">&#8211; 42 kDa</text>
<rect x="320.00" y="328.00" width="45.30" height="11.00" fill="#f2f2f2" stroke="#7a7a7a" stroke-width="0.6"/>
<rect x="323.65" y="332.40" width="7.50" height="1.40" rx="0.70" fill="rgb(100,100,100)" filter="url(#bl)"/>
<path d="M334.40,332.44 L342.40,332.76 L342.40,334.76 L334.40,334.44 Z" fill="rgb(26,26,26)" filter="url(#bl)"/>
<path d="M345.65,333.05 L353.15,333.35 L353.15,335.35 L345.65,335.05 Z" fill="rgb(19,19,19)" filter="url(#bl)"/>
<rect x="356.00" y="333.60" width="8.00" height="1.40" rx="0.70" fill="rgb(157,157,157)" filter="url(#bl)"/>
<text x="316.70" y="333.40" font-size="5.9" text-anchor="end" fill="#262626">XBP1</text>
<text x="367.60" y="332.60" font-size="5.9" fill="#262626">&#8211; 29 kDa</text>
<rect x="320.00" y="340.50" width="45.30" height="11.00" fill="#f2f2f2" stroke="#7a7a7a" stroke-width="0.6"/>
<rect x="323.15" y="344.25" width="8.50" height="1.90" rx="0.95" fill="rgb(49,49,49)" filter="url(#bl)"/>
<rect x="334.40" y="344.30" width="8.00" height="1.80" rx="0.90" fill="rgb(54,54,54)" filter="url(#bl)"/>
<rect x="345.65" y="344.80" width="7.50" height="1.60" rx="0.80" fill="rgb(77,77,77)" filter="url(#bl)"/>
<rect x="355.75" y="343.80" width="8.50" height="2.40" rx="1.20" fill="rgb(12,12,12)" filter="url(#bl)"/>
<text x="316.70" y="346.50" font-size="5.9" text-anchor="end" fill="#262626">Actin</text>
<text x="367.60" y="345.70" font-size="5.9" fill="#262626">&#8211; 42 kDa</text>
<rect x="320.40" y="337.60" width="44.50" height="1.80" fill="#cfcfcf"/>
<text x="6.40" y="384.60" font-size="10.6" font-weight="bold" fill="#111">Q</text>
<text x="65.90" y="381.60" font-size="5.8" text-anchor="middle" fill="#262626" textLength="15.2" lengthAdjust="spacingAndGlyphs">INA-6</text>
<line x1="43.00" y1="396.80" x2="43.00" y2="478.00" stroke="#222" stroke-width="1.1"/>
<line x1="42.50" y1="478.00" x2="93.50" y2="478.00" stroke="#222" stroke-width="1.1"/>
<line x1="40.60" y1="399.60" x2="43.00" y2="399.60" stroke="#222" stroke-width="0.8"/>
<text x="37.60" y="401.60" font-size="5.7" text-anchor="end" fill="#262626">50</text>
<line x1="40.60" y1="415.28" x2="43.00" y2="415.28" stroke="#222" stroke-width="0.8"/>
<text x="37.60" y="417.28" font-size="5.7" text-anchor="end" fill="#262626">40</text>
<line x1="40.60" y1="430.96" x2="43.00" y2="430.96" stroke="#222" stroke-width="0.8"/>
<text x="37.60" y="432.96" font-size="5.7" text-anchor="end" fill="#262626">30</text>
<line x1="40.60" y1="446.64" x2="43.00" y2="446.64" stroke="#222" stroke-width="0.8"/>
<text x="37.60" y="448.64" font-size="5.7" text-anchor="end" fill="#262626">20</text>
<line x1="40.60" y1="462.32" x2="43.00" y2="462.32" stroke="#222" stroke-width="0.8"/>
<text x="37.60" y="464.32" font-size="5.7" text-anchor="end" fill="#262626">10</text>
<line x1="40.60" y1="478.00" x2="43.00" y2="478.00" stroke="#222" stroke-width="0.8"/>
<text x="37.60" y="480.00" font-size="5.7" text-anchor="end" fill="#262626">0</text>
<rect x="47.30" y="441.15" width="7.70" height="36.85" fill="#c4c4cc"/>
<line x1="51.15" y1="437.23" x2="51.15" y2="442.65" stroke="#333" stroke-width="0.85"/>
<line x1="50.25" y1="437.23" x2="52.05" y2="437.23" stroke="#333" stroke-width="0.6"/>
<rect x="59.50" y="426.88" width="7.90" height="51.12" fill="#185a8e"/>
<line x1="63.45" y1="423.90" x2="63.45" y2="428.38" stroke="#333" stroke-width="0.85"/>
<line x1="62.55" y1="423.90" x2="64.35" y2="423.90" stroke="#333" stroke-width="0.6"/>
<rect x="72.00" y="435.04" width="7.60" height="42.96" fill="#5a1e7a"/>
<line x1="75.80" y1="434.25" x2="75.80" y2="436.54" stroke="#333" stroke-width="0.85"/>
<line x1="74.90" y1="434.25" x2="76.70" y2="434.25" stroke="#333" stroke-width="0.6"/>
<rect x="83.50" y="410.58" width="7.70" height="67.42" fill="#8c86cc"/>
<line x1="87.35" y1="408.22" x2="87.35" y2="412.08" stroke="#333" stroke-width="0.85"/>
<line x1="86.45" y1="408.22" x2="88.25" y2="408.22" stroke="#333" stroke-width="0.6"/>
<line x1="50.80" y1="392.20" x2="87.70" y2="392.20" stroke="#3a3a3a" stroke-width="0.9"/>
<text x="69.25" y="391.80" font-size="5.2" text-anchor="middle" fill="#262626">****</text>
<line x1="62.80" y1="399.20" x2="87.70" y2="399.20" stroke="#3a3a3a" stroke-width="0.9"/>
<text x="75.25" y="398.80" font-size="5.2" text-anchor="middle" fill="#262626">**</text>
<line x1="75.00" y1="406.50" x2="87.70" y2="406.50" stroke="#3a3a3a" stroke-width="0.9"/>
<text x="81.35" y="406.10" font-size="5.2" text-anchor="middle" fill="#262626">****</text>
<line x1="51.20" y1="421.00" x2="65.00" y2="421.00" stroke="#3a3a3a" stroke-width="0.9"/>
<line x1="51.20" y1="421.00" x2="51.20" y2="422.60" stroke="#333" stroke-width="0.6"/>
<text x="58.10" y="420.60" font-size="5.2" text-anchor="middle" fill="#262626">*</text>
<line x1="51.10" y1="478.00" x2="51.10" y2="480.00" stroke="#222" stroke-width="0.7"/>
<text x="53.70" y="486.40" font-size="5.9" text-anchor="end" fill="#262626" transform="rotate(-45 53.70 486.40)" class="r">Control</text>
<line x1="63.40" y1="478.00" x2="63.40" y2="480.00" stroke="#222" stroke-width="0.7"/>
<text x="66.00" y="486.40" font-size="5.9" text-anchor="end" fill="#262626" transform="rotate(-45 66.00 486.40)" class="r">A366</text>
<line x1="75.80" y1="478.00" x2="75.80" y2="480.00" stroke="#222" stroke-width="0.7"/>
<text x="78.40" y="486.40" font-size="5.9" text-anchor="end" fill="#262626" transform="rotate(-45 78.40 486.40)" class="r">5-Azacytidine</text>
<line x1="87.30" y1="478.00" x2="87.30" y2="480.00" stroke="#222" stroke-width="0.7"/>
<text x="89.90" y="486.40" font-size="5.9" text-anchor="end" fill="#262626" transform="rotate(-45 89.90 486.40)" class="r">A366+</text>
<text x="95.60" y="490.20" font-size="5.9" text-anchor="end" fill="#262626" transform="rotate(-45 95.60 490.20)" class="r">5-Azacytidine</text>
<text x="16.50" y="438.90" font-size="6.4" text-anchor="middle" font-weight="bold" fill="#262626" transform="rotate(-90 16.50 438.90)" class="r" textLength="47.6" lengthAdjust="spacingAndGlyphs">% Annexin V+/PI+</text>
<text x="26.30" y="439.30" font-size="6.4" text-anchor="middle" font-weight="bold" fill="#262626" transform="rotate(-90 26.30 439.30)" class="r" textLength="32" lengthAdjust="spacingAndGlyphs">apoptotic cells</text>
<text x="110.40" y="384.60" font-size="10.6" font-weight="bold" fill="#111">R</text>
<text x="166.60" y="381.30" font-size="5.8" text-anchor="middle" fill="#262626">OPM2</text>
<line x1="143.40" y1="396.80" x2="143.40" y2="478.00" stroke="#222" stroke-width="1.1"/>
<line x1="142.90" y1="478.00" x2="195.00" y2="478.00" stroke="#222" stroke-width="1.1"/>
<line x1="141.00" y1="399.60" x2="143.40" y2="399.60" stroke="#222" stroke-width="0.8"/>
<text x="138.00" y="401.60" font-size="5.7" text-anchor="end" fill="#262626">40</text>
<line x1="141.00" y1="419.20" x2="143.40" y2="419.20" stroke="#222" stroke-width="0.8"/>
<text x="138.00" y="421.20" font-size="5.7" text-anchor="end" fill="#262626">30</text>
<line x1="141.00" y1="438.80" x2="143.40" y2="438.80" stroke="#222" stroke-width="0.8"/>
<text x="138.00" y="440.80" font-size="5.7" text-anchor="end" fill="#262626">20</text>
<line x1="141.00" y1="458.40" x2="143.40" y2="458.40" stroke="#222" stroke-width="0.8"/>
<text x="138.00" y="460.40" font-size="5.7" text-anchor="end" fill="#262626">10</text>
<line x1="141.00" y1="478.00" x2="143.40" y2="478.00" stroke="#222" stroke-width="0.8"/>
<text x="138.00" y="480.00" font-size="5.7" text-anchor="end" fill="#262626">0</text>
<rect x="148.40" y="438.80" width="7.40" height="39.20" fill="#c4c4cc"/>
<line x1="152.10" y1="437.23" x2="152.10" y2="440.30" stroke="#333" stroke-width="0.85"/>
<line x1="151.20" y1="437.23" x2="153.00" y2="437.23" stroke="#333" stroke-width="0.6"/>
<rect x="160.80" y="436.84" width="7.00" height="41.16" fill="#185a8e"/>
<line x1="164.30" y1="434.88" x2="164.30" y2="438.34" stroke="#333" stroke-width="0.85"/>
<line x1="163.40" y1="434.88" x2="165.20" y2="434.88" stroke="#333" stroke-width="0.6"/>
<rect x="173.00" y="429.00" width="7.00" height="49.00" fill="#5a1e7a"/>
<line x1="176.50" y1="424.10" x2="176.50" y2="430.50" stroke="#333" stroke-width="0.85"/>
<line x1="175.60" y1="424.10" x2="177.40" y2="424.10" stroke="#333" stroke-width="0.6"/>
<rect x="185.30" y="410.58" width="6.90" height="67.42" fill="#8c86cc"/>
<line x1="188.75" y1="406.46" x2="188.75" y2="412.08" stroke="#333" stroke-width="0.85"/>
<line x1="187.85" y1="406.46" x2="189.65" y2="406.46" stroke="#333" stroke-width="0.6"/>
<line x1="152.30" y1="389.20" x2="188.10" y2="389.20" stroke="#3a3a3a" stroke-width="0.9"/>
<text x="170.20" y="388.80" font-size="5.2" text-anchor="middle" fill="#262626">**</text>
<line x1="164.50" y1="396.80" x2="188.10" y2="396.80" stroke="#3a3a3a" stroke-width="0.9"/>
<text x="176.30" y="396.40" font-size="5.2" text-anchor="middle" fill="#262626">**</text>
<line x1="176.00" y1="404.20" x2="188.10" y2="404.20" stroke="#3a3a3a" stroke-width="0.9"/>
<text x="182.05" y="403.80" font-size="5.2" text-anchor="middle" fill="#262626">*</text>
<line x1="152.10" y1="478.00" x2="152.10" y2="480.00" stroke="#222" stroke-width="0.7"/>
<text x="154.70" y="486.40" font-size="5.9" text-anchor="end" fill="#262626" transform="rotate(-45 154.70 486.40)" class="r">Control</text>
<line x1="164.30" y1="478.00" x2="164.30" y2="480.00" stroke="#222" stroke-width="0.7"/>
<text x="166.90" y="486.40" font-size="5.9" text-anchor="end" fill="#262626" transform="rotate(-45 166.90 486.40)" class="r">A366</text>
<line x1="176.50" y1="478.00" x2="176.50" y2="480.00" stroke="#222" stroke-width="0.7"/>
<text x="179.10" y="486.40" font-size="5.9" text-anchor="end" fill="#262626" transform="rotate(-45 179.10 486.40)" class="r">5-Azacytidine</text>
<line x1="188.70" y1="478.00" x2="188.70" y2="480.00" stroke="#222" stroke-width="0.7"/>
<text x="191.30" y="486.40" font-size="5.9" text-anchor="end" fill="#262626" transform="rotate(-45 191.30 486.40)" class="r">A366+</text>
<text x="197.00" y="490.20" font-size="5.9" text-anchor="end" fill="#262626" transform="rotate(-45 197.00 490.20)" class="r">5-Azacytidine</text>
<text x="116.70" y="438.90" font-size="6.4" text-anchor="middle" font-weight="bold" fill="#262626" transform="rotate(-90 116.70 438.90)" class="r" textLength="47.6" lengthAdjust="spacingAndGlyphs">% Annexin V+/PI+</text>
<text x="127.30" y="439.30" font-size="6.4" text-anchor="middle" font-weight="bold" fill="#262626" transform="rotate(-90 127.30 439.30)" class="r" textLength="32" lengthAdjust="spacingAndGlyphs">apoptotic cells</text>
<text x="210.40" y="384.60" font-size="10.6" font-weight="bold" fill="#111">S</text>
<text x="270.50" y="383.20" font-size="6.0" text-anchor="middle" fill="#262626">KMS-26PE</text>
<line x1="244.10" y1="394.50" x2="244.10" y2="478.00" stroke="#222" stroke-width="1.1"/>
<line x1="243.60" y1="478.00" x2="295.50" y2="478.00" stroke="#222" stroke-width="1.1"/>
<line x1="241.70" y1="397.30" x2="244.10" y2="397.30" stroke="#222" stroke-width="0.8"/>
<text x="238.70" y="399.30" font-size="5.7" text-anchor="end" fill="#262626">50</text>
<line x1="241.70" y1="413.44" x2="244.10" y2="413.44" stroke="#222" stroke-width="0.8"/>
<text x="238.70" y="415.44" font-size="5.7" text-anchor="end" fill="#262626">40</text>
<line x1="241.70" y1="429.58" x2="244.10" y2="429.58" stroke="#222" stroke-width="0.8"/>
<text x="238.70" y="431.58" font-size="5.7" text-anchor="end" fill="#262626">30</text>
<line x1="241.70" y1="445.72" x2="244.10" y2="445.72" stroke="#222" stroke-width="0.8"/>
<text x="238.70" y="447.72" font-size="5.7" text-anchor="end" fill="#262626">20</text>
<line x1="241.70" y1="461.86" x2="244.10" y2="461.86" stroke="#222" stroke-width="0.8"/>
<text x="238.70" y="463.86" font-size="5.7" text-anchor="end" fill="#262626">10</text>
<line x1="241.70" y1="478.00" x2="244.10" y2="478.00" stroke="#222" stroke-width="0.8"/>
<text x="238.70" y="480.00" font-size="5.7" text-anchor="end" fill="#262626">0</text>
<rect x="248.80" y="459.12" width="7.40" height="18.88" fill="#c4c4cc"/>
<line x1="252.50" y1="455.40" x2="252.50" y2="460.62" stroke="#333" stroke-width="0.85"/>
<line x1="251.60" y1="455.40" x2="253.40" y2="455.40" stroke="#333" stroke-width="0.6"/>
<rect x="261.50" y="455.73" width="7.00" height="22.27" fill="#185a8e"/>
<line x1="265.00" y1="452.98" x2="265.00" y2="457.23" stroke="#333" stroke-width="0.85"/>
<line x1="264.10" y1="452.98" x2="265.90" y2="452.98" stroke="#333" stroke-width="0.6"/>
<rect x="273.50" y="437.17" width="7.20" height="40.83" fill="#5a1e7a"/>
<line x1="277.10" y1="432.00" x2="277.10" y2="438.67" stroke="#333" stroke-width="0.85"/>
<line x1="276.20" y1="432.00" x2="278.00" y2="432.00" stroke="#333" stroke-width="0.6"/>
<rect x="285.80" y="412.96" width="7.40" height="65.04" fill="#8c86cc"/>
<line x1="289.50" y1="411.02" x2="289.50" y2="414.46" stroke="#333" stroke-width="0.85"/>
<line x1="288.60" y1="411.02" x2="290.40" y2="411.02" stroke="#333" stroke-width="0.6"/>
<line x1="253.50" y1="395.00" x2="289.20" y2="395.00" stroke="#3a3a3a" stroke-width="0.9"/>
<text x="271.35" y="394.60" font-size="5.2" text-anchor="middle" fill="#262626">****</text>
<line x1="265.50" y1="402.40" x2="289.20" y2="402.40" stroke="#3a3a3a" stroke-width="0.9"/>
<text x="277.35" y="402.00" font-size="5.2" text-anchor="middle" fill="#262626">****</text>
<line x1="277.20" y1="409.30" x2="289.20" y2="409.30" stroke="#3a3a3a" stroke-width="0.9"/>
<text x="283.20" y="408.90" font-size="5.2" text-anchor="middle" fill="#262626">**</text>
<line x1="252.30" y1="420.40" x2="276.50" y2="420.40" stroke="#3a3a3a" stroke-width="0.9"/>
<text x="264.40" y="420.00" font-size="5.2" text-anchor="middle" fill="#262626">**</text>
<line x1="265.50" y1="428.00" x2="276.50" y2="428.00" stroke="#3a3a3a" stroke-width="0.9"/>
<text x="271.00" y="427.60" font-size="5.2" text-anchor="middle" fill="#262626">*</text>
<line x1="252.50" y1="478.00" x2="252.50" y2="480.00" stroke="#222" stroke-width="0.7"/>
<text x="255.10" y="486.40" font-size="5.9" text-anchor="end" fill="#262626" transform="rotate(-45 255.10 486.40)" class="r">Control</text>
<line x1="265.00" y1="478.00" x2="265.00" y2="480.00" stroke="#222" stroke-width="0.7"/>
<text x="267.60" y="486.40" font-size="5.9" text-anchor="end" fill="#262626" transform="rotate(-45 267.60 486.40)" class="r">A366</text>
<line x1="277.10" y1="478.00" x2="277.10" y2="480.00" stroke="#222" stroke-width="0.7"/>
<text x="279.70" y="486.40" font-size="5.9" text-anchor="end" fill="#262626" transform="rotate(-45 279.70 486.40)" class="r">5-Azacytidine</text>
<line x1="289.50" y1="478.00" x2="289.50" y2="480.00" stroke="#222" stroke-width="0.7"/>
<text x="292.10" y="486.40" font-size="5.9" text-anchor="end" fill="#262626" transform="rotate(-45 292.10 486.40)" class="r">A366+</text>
<text x="297.80" y="490.20" font-size="5.9" text-anchor="end" fill="#262626" transform="rotate(-45 297.80 490.20)" class="r">5-Azacytidine</text>
<text x="216.90" y="438.90" font-size="6.4" text-anchor="middle" font-weight="bold" fill="#262626" transform="rotate(-90 216.90 438.90)" class="r" textLength="47.6" lengthAdjust="spacingAndGlyphs">% Annexin V+/PI+</text>
<text x="227.50" y="439.30" font-size="6.4" text-anchor="middle" font-weight="bold" fill="#262626" transform="rotate(-90 227.50 439.30)" class="r" textLength="32" lengthAdjust="spacingAndGlyphs">apoptotic cells</text>
<text x="312.30" y="384.80" font-size="10.6" font-weight="bold" fill="#111">T</text>
<text x="386.00" y="390.00" font-size="7.6" text-anchor="middle" fill="#222">Bliss</text>
<text x="339.20" y="400.10" font-size="7.6" fill="#222" textLength="94" lengthAdjust="spacingAndGlyphs">Mean: 4.91 (P = 3.66e-02)</text>
<defs><clipPath id="tclip"><rect x="330" y="407" width="100" height="100"/></clipPath></defs><g clip-path="url(#tclip)">
<line x1="338.70" y1="468.70" x2="333.50" y2="404.30" stroke="#e8e8e8" stroke-width="0.45"/>
<line x1="382.00" y1="443.50" x2="379.50" y2="381.00" stroke="#e8e8e8" stroke-width="0.45"/>
<line x1="347.36" y1="463.66" x2="342.70" y2="399.64" stroke="#e8e8e8" stroke-width="0.45"/>
<line x1="389.24" y1="448.76" x2="388.40" y2="386.88" stroke="#e8e8e8" stroke-width="0.45"/>
<line x1="356.02" y1="458.62" x2="351.90" y2="394.98" stroke="#e8e8e8" stroke-width="0.45"/>
<line x1="396.48" y1="454.02" x2="397.30" y2="392.76" stroke="#e8e8e8" stroke-width="0.45"/>
<line x1="364.68" y1="453.58" x2="361.10" y2="390.32" stroke="#e8e8e8" stroke-width="0.45"/>
<line x1="403.72" y1="459.28" x2="406.20" y2="398.64" stroke="#e8e8e8" stroke-width="0.45"/>
<line x1="373.34" y1="448.54" x2="370.30" y2="385.66" stroke="#e8e8e8" stroke-width="0.45"/>
<line x1="410.96" y1="464.54" x2="415.10" y2="404.52" stroke="#e8e8e8" stroke-width="0.45"/>
<line x1="382.00" y1="443.50" x2="379.50" y2="381.00" stroke="#e8e8e8" stroke-width="0.45"/>
<line x1="418.20" y1="469.80" x2="424.00" y2="410.40" stroke="#e8e8e8" stroke-width="0.45"/>
<path d="M338.70,468.70 L382.00,443.50 L418.20,469.80" stroke="#e8e8e8" stroke-width="0.45" fill="none"/>
<path d="M337.96,459.50 L381.64,434.57 L419.03,461.31" stroke="#e8e8e8" stroke-width="0.45" fill="none"/>
<path d="M337.21,450.30 L381.29,425.64 L419.86,452.83" stroke="#e8e8e8" stroke-width="0.45" fill="none"/>
<path d="M336.47,441.10 L380.93,416.71 L420.69,444.34" stroke="#e8e8e8" stroke-width="0.45" fill="none"/>
<path d="M335.73,431.90 L380.57,407.79 L421.51,435.86" stroke="#e8e8e8" stroke-width="0.45" fill="none"/>
<path d="M334.99,422.70 L380.21,398.86 L422.34,427.37" stroke="#e8e8e8" stroke-width="0.45" fill="none"/>
<path d="M334.24,413.50 L379.86,389.93 L423.17,418.89" stroke="#e8e8e8" stroke-width="0.45" fill="none"/>
<path d="M333.50,404.30 L379.50,381.00 L424.00,410.40" stroke="#e8e8e8" stroke-width="0.45" fill="none"/>
</g>
<line x1="338.70" y1="468.70" x2="382.00" y2="443.50" stroke="#eeeeee" stroke-width="0.45"/>
<line x1="338.70" y1="468.70" x2="375.20" y2="495.60" stroke="#eeeeee" stroke-width="0.45"/>
<line x1="346.00" y1="474.08" x2="389.24" y2="448.76" stroke="#eeeeee" stroke-width="0.45"/>
<line x1="347.36" y1="463.66" x2="383.80" y2="490.44" stroke="#eeeeee" stroke-width="0.45"/>
<line x1="353.30" y1="479.46" x2="396.48" y2="454.02" stroke="#eeeeee" stroke-width="0.45"/>
<line x1="356.02" y1="458.62" x2="392.40" y2="485.28" stroke="#eeeeee" stroke-width="0.45"/>
<line x1="360.60" y1="484.84" x2="403.72" y2="459.28" stroke="#eeeeee" stroke-width="0.45"/>
<line x1="364.68" y1="453.58" x2="401.00" y2="480.12" stroke="#eeeeee" stroke-width="0.45"/>
<line x1="367.90" y1="490.22" x2="410.96" y2="464.54" stroke="#eeeeee" stroke-width="0.45"/>
<line x1="373.34" y1="448.54" x2="409.60" y2="474.96" stroke="#eeeeee" stroke-width="0.45"/>
<line x1="375.20" y1="495.60" x2="418.20" y2="469.80" stroke="#eeeeee" stroke-width="0.45"/>
<line x1="382.00" y1="443.50" x2="418.20" y2="469.80" stroke="#eeeeee" stroke-width="0.45"/>
<line x1="338.40" y1="439.40" x2="342.30" y2="438.59" stroke="rgb(105,105,105)" stroke-width="0.42"/>
<line x1="342.30" y1="438.59" x2="346.20" y2="437.77" stroke="rgb(105,105,105)" stroke-width="0.42"/>
<line x1="346.20" y1="437.77" x2="350.10" y2="436.94" stroke="rgb(105,105,105)" stroke-width="0.42"/>
<line x1="350.10" y1="436.94" x2="354.00" y2="436.10" stroke="rgb(105,105,105)" stroke-width="0.42"/>
<line x1="354.00" y1="436.10" x2="357.90" y2="435.18" stroke="rgb(105,105,105)" stroke-width="0.42"/>
<line x1="357.90" y1="435.18" x2="361.80" y2="434.14" stroke="rgb(105,105,105)" stroke-width="0.42"/>
<line x1="361.80" y1="434.14" x2="365.70" y2="432.93" stroke="rgb(115,102,103)" stroke-width="0.42"/>
<line x1="365.70" y1="432.93" x2="369.60" y2="431.58" stroke="rgb(133,98,101)" stroke-width="0.42"/>
<line x1="369.60" y1="431.58" x2="373.50" y2="430.27" stroke="rgb(150,94,98)" stroke-width="0.42"/>
<line x1="373.50" y1="430.27" x2="377.40" y2="429.23" stroke="rgb(168,90,96)" stroke-width="0.42"/>
<line x1="377.40" y1="429.23" x2="381.30" y2="428.59" stroke="rgb(185,86,94)" stroke-width="0.42"/>
<line x1="381.30" y1="428.59" x2="385.20" y2="428.24" stroke="rgb(203,82,91)" stroke-width="0.42"/>
<line x1="385.20" y1="428.24" x2="389.10" y2="427.97" stroke="rgb(215,80,90)" stroke-width="0.42"/>
<line x1="389.10" y1="427.97" x2="393.00" y2="427.58" stroke="rgb(215,80,90)" stroke-width="0.42"/>
<line x1="341.29" y1="440.84" x2="345.12" y2="439.97" stroke="rgb(105,105,105)" stroke-width="0.42"/>
<line x1="345.12" y1="439.97" x2="348.95" y2="439.09" stroke="rgb(105,105,105)" stroke-width="0.42"/>
<line x1="348.95" y1="439.09" x2="352.78" y2="438.21" stroke="rgb(105,105,105)" stroke-width="0.42"/>
<line x1="352.78" y1="438.21" x2="356.61" y2="437.30" stroke="rgb(105,105,105)" stroke-width="0.42"/>
<line x1="356.61" y1="437.30" x2="360.43" y2="436.32" stroke="rgb(105,105,105)" stroke-width="0.42"/>
<line x1="360.43" y1="436.32" x2="364.26" y2="435.21" stroke="rgb(105,105,105)" stroke-width="0.42"/>
<line x1="364.26" y1="435.21" x2="368.09" y2="433.92" stroke="rgb(115,102,103)" stroke-width="0.42"/>
<line x1="368.09" y1="433.92" x2="371.92" y2="432.49" stroke="rgb(133,98,101)" stroke-width="0.42"/>
<line x1="371.92" y1="432.49" x2="375.75" y2="431.10" stroke="rgb(150,94,98)" stroke-width="0.42"/>
<line x1="375.75" y1="431.10" x2="379.58" y2="429.99" stroke="rgb(168,90,96)" stroke-width="0.42"/>
<line x1="379.58" y1="429.99" x2="383.41" y2="429.29" stroke="rgb(185,86,94)" stroke-width="0.42"/>
<line x1="383.41" y1="429.29" x2="387.23" y2="428.91" stroke="rgb(203,82,91)" stroke-width="0.42"/>
<line x1="387.23" y1="428.91" x2="391.06" y2="428.60" stroke="rgb(215,80,90)" stroke-width="0.42"/>
<line x1="391.06" y1="428.60" x2="394.89" y2="428.17" stroke="rgb(215,80,90)" stroke-width="0.42"/>
<line x1="344.18" y1="442.28" x2="347.94" y2="441.35" stroke="rgb(105,105,105)" stroke-width="0.42"/>
<line x1="347.94" y1="441.35" x2="351.70" y2="440.42" stroke="rgb(105,105,105)" stroke-width="0.42"/>
<line x1="351.70" y1="440.42" x2="355.45" y2="439.48" stroke="rgb(105,105,105)" stroke-width="0.42"/>
<line x1="355.45" y1="439.48" x2="359.21" y2="438.52" stroke="rgb(105,105,105)" stroke-width="0.42"/>
<line x1="359.21" y1="438.52" x2="362.97" y2="437.52" stroke="rgb(105,105,105)" stroke-width="0.42"/>
<line x1="362.97" y1="437.52" x2="366.73" y2="436.43" stroke="rgb(105,105,105)" stroke-width="0.42"/>
<line x1="366.73" y1="436.43" x2="370.48" y2="435.23" stroke="rgb(115,102,103)" stroke-width="0.42"/>
<line x1="370.48" y1="435.23" x2="374.24" y2="433.93" stroke="rgb(133,98,101)" stroke-width="0.42"/>
<line x1="374.24" y1="433.93" x2="378.00" y2="432.65" stroke="rgb(150,94,98)" stroke-width="0.42"/>
<line x1="378.00" y1="432.65" x2="381.75" y2="431.57" stroke="rgb(168,90,96)" stroke-width="0.42"/>
<line x1="381.75" y1="431.57" x2="385.51" y2="430.75" stroke="rgb(185,86,94)" stroke-width="0.42"/>
<line x1="385.51" y1="430.75" x2="389.27" y2="430.14" stroke="rgb(203,82,91)" stroke-width="0.42"/>
<line x1="389.27" y1="430.14" x2="393.03" y2="429.58" stroke="rgb(215,80,90)" stroke-width="0.42"/>
<line x1="393.03" y1="429.58" x2="396.78" y2="428.94" stroke="rgb(215,80,90)" stroke-width="0.42"/>
<line x1="347.07" y1="443.72" x2="350.76" y2="442.73" stroke="rgb(105,105,105)" stroke-width="0.42"/>
<line x1="350.76" y1="442.73" x2="354.45" y2="441.74" stroke="rgb(105,105,105)" stroke-width="0.42"/>
<line x1="354.45" y1="441.74" x2="358.13" y2="440.75" stroke="rgb(105,105,105)" stroke-width="0.42"/>
<line x1="358.13" y1="440.75" x2="361.82" y2="439.75" stroke="rgb(105,105,105)" stroke-width="0.42"/>
<line x1="361.82" y1="439.75" x2="365.50" y2="438.73" stroke="rgb(105,105,105)" stroke-width="0.42"/>
<line x1="365.50" y1="438.73" x2="369.19" y2="437.67" stroke="rgb(105,105,105)" stroke-width="0.42"/>
<line x1="369.19" y1="437.67" x2="372.88" y2="436.57" stroke="rgb(115,102,103)" stroke-width="0.42"/>
<line x1="372.88" y1="436.57" x2="376.56" y2="435.42" stroke="rgb(133,98,101)" stroke-width="0.42"/>
<line x1="376.56" y1="435.42" x2="380.25" y2="434.29" stroke="rgb(150,94,98)" stroke-width="0.42"/>
<line x1="380.25" y1="434.29" x2="383.93" y2="433.23" stroke="rgb(168,90,96)" stroke-width="0.42"/>
<line x1="383.93" y1="433.23" x2="387.62" y2="432.29" stroke="rgb(185,86,94)" stroke-width="0.42"/>
<line x1="387.62" y1="432.29" x2="391.30" y2="431.43" stroke="rgb(203,82,91)" stroke-width="0.42"/>
<line x1="391.30" y1="431.43" x2="394.99" y2="430.60" stroke="rgb(215,80,90)" stroke-width="0.42"/>
<line x1="394.99" y1="430.60" x2="398.68" y2="429.73" stroke="rgb(215,80,90)" stroke-width="0.42"/>
<line x1="349.97" y1="445.17" x2="353.58" y2="444.12" stroke="rgb(105,105,105)" stroke-width="0.42"/>
<line x1="353.58" y1="444.12" x2="357.20" y2="443.07" stroke="rgb(105,105,105)" stroke-width="0.42"/>
<line x1="357.20" y1="443.07" x2="360.81" y2="442.02" stroke="rgb(105,105,105)" stroke-width="0.42"/>
<line x1="360.81" y1="442.02" x2="364.42" y2="440.96" stroke="rgb(105,105,105)" stroke-width="0.42"/>
<line x1="364.42" y1="440.96" x2="368.04" y2="439.91" stroke="rgb(105,105,105)" stroke-width="0.42"/>
<line x1="368.04" y1="439.91" x2="371.65" y2="438.84" stroke="rgb(105,105,105)" stroke-width="0.42"/>
<line x1="371.65" y1="438.84" x2="375.27" y2="437.76" stroke="rgb(115,102,103)" stroke-width="0.42"/>
<line x1="375.27" y1="437.76" x2="378.88" y2="436.67" stroke="rgb(133,98,101)" stroke-width="0.42"/>
<line x1="378.88" y1="436.67" x2="382.50" y2="435.58" stroke="rgb(150,94,98)" stroke-width="0.42"/>
<line x1="382.50" y1="435.58" x2="386.11" y2="434.52" stroke="rgb(168,90,96)" stroke-width="0.42"/>
<line x1="386.11" y1="434.52" x2="389.72" y2="433.48" stroke="rgb(185,86,94)" stroke-width="0.42"/>
<line x1="389.72" y1="433.48" x2="393.34" y2="432.46" stroke="rgb(203,82,91)" stroke-width="0.42"/>
<line x1="393.34" y1="432.46" x2="396.95" y2="431.45" stroke="rgb(215,80,90)" stroke-width="0.42"/>
<line x1="396.95" y1="431.45" x2="400.57" y2="430.44" stroke="rgb(215,80,90)" stroke-width="0.42"/>
<line x1="352.86" y1="446.61" x2="356.40" y2="445.50" stroke="rgb(105,105,105)" stroke-width="0.42"/>
<line x1="356.40" y1="445.50" x2="359.94" y2="444.39" stroke="rgb(105,105,105)" stroke-width="0.42"/>
<line x1="359.94" y1="444.39" x2="363.49" y2="443.28" stroke="rgb(105,105,105)" stroke-width="0.42"/>
<line x1="363.49" y1="443.28" x2="367.03" y2="442.17" stroke="rgb(105,105,105)" stroke-width="0.42"/>
<line x1="367.03" y1="442.17" x2="370.57" y2="441.06" stroke="rgb(105,105,105)" stroke-width="0.42"/>
<line x1="370.57" y1="441.06" x2="374.12" y2="439.95" stroke="rgb(105,105,105)" stroke-width="0.42"/>
<line x1="374.12" y1="439.95" x2="377.66" y2="438.84" stroke="rgb(115,102,103)" stroke-width="0.42"/>
<line x1="377.66" y1="438.84" x2="381.20" y2="437.72" stroke="rgb(133,98,101)" stroke-width="0.42"/>
<line x1="381.20" y1="437.72" x2="384.74" y2="436.61" stroke="rgb(150,94,98)" stroke-width="0.42"/>
<line x1="384.74" y1="436.61" x2="388.29" y2="435.49" stroke="rgb(168,90,96)" stroke-width="0.42"/>
<line x1="388.29" y1="435.49" x2="391.83" y2="434.39" stroke="rgb(185,86,94)" stroke-width="0.42"/>
<line x1="391.83" y1="434.39" x2="395.37" y2="433.28" stroke="rgb(203,82,91)" stroke-width="0.42"/>
<line x1="395.37" y1="433.28" x2="398.92" y2="432.18" stroke="rgb(215,80,90)" stroke-width="0.42"/>
<line x1="398.92" y1="432.18" x2="402.46" y2="431.08" stroke="rgb(215,80,90)" stroke-width="0.42"/>
<line x1="355.75" y1="448.05" x2="359.22" y2="446.88" stroke="rgb(105,105,105)" stroke-width="0.42"/>
<line x1="359.22" y1="446.88" x2="362.69" y2="445.71" stroke="rgb(105,105,105)" stroke-width="0.42"/>
<line x1="362.69" y1="445.71" x2="366.16" y2="444.55" stroke="rgb(105,105,105)" stroke-width="0.42"/>
<line x1="366.16" y1="444.55" x2="369.64" y2="443.38" stroke="rgb(105,105,105)" stroke-width="0.42"/>
<line x1="369.64" y1="443.38" x2="373.11" y2="442.21" stroke="rgb(105,105,105)" stroke-width="0.42"/>
<line x1="373.11" y1="442.21" x2="376.58" y2="441.04" stroke="rgb(105,105,105)" stroke-width="0.42"/>
<line x1="376.58" y1="441.04" x2="380.05" y2="439.87" stroke="rgb(115,102,103)" stroke-width="0.42"/>
<line x1="380.05" y1="439.87" x2="383.52" y2="438.71" stroke="rgb(133,98,101)" stroke-width="0.42"/>
<line x1="383.52" y1="438.71" x2="386.99" y2="437.54" stroke="rgb(150,94,98)" stroke-width="0.42"/>
<line x1="386.99" y1="437.54" x2="390.46" y2="436.37" stroke="rgb(168,90,96)" stroke-width="0.42"/>
<line x1="390.46" y1="436.37" x2="393.94" y2="435.20" stroke="rgb(185,86,94)" stroke-width="0.42"/>
<line x1="393.94" y1="435.20" x2="397.41" y2="434.03" stroke="rgb(203,82,91)" stroke-width="0.42"/>
<line x1="397.41" y1="434.03" x2="400.88" y2="432.87" stroke="rgb(215,80,90)" stroke-width="0.42"/>
<line x1="400.88" y1="432.87" x2="404.35" y2="431.70" stroke="rgb(215,80,90)" stroke-width="0.42"/>
<line x1="358.64" y1="449.49" x2="362.04" y2="448.26" stroke="rgb(105,105,105)" stroke-width="0.42"/>
<line x1="362.04" y1="448.26" x2="365.44" y2="447.04" stroke="rgb(105,105,105)" stroke-width="0.42"/>
<line x1="365.44" y1="447.04" x2="368.84" y2="445.81" stroke="rgb(105,105,105)" stroke-width="0.42"/>
<line x1="368.84" y1="445.81" x2="372.24" y2="444.58" stroke="rgb(105,105,105)" stroke-width="0.42"/>
<line x1="372.24" y1="444.58" x2="375.64" y2="443.36" stroke="rgb(105,105,105)" stroke-width="0.42"/>
<line x1="375.64" y1="443.36" x2="379.04" y2="442.13" stroke="rgb(105,105,105)" stroke-width="0.42"/>
<line x1="379.04" y1="442.13" x2="382.44" y2="440.90" stroke="rgb(115,102,103)" stroke-width="0.42"/>
<line x1="382.44" y1="440.90" x2="385.84" y2="439.68" stroke="rgb(133,98,101)" stroke-width="0.42"/>
<line x1="385.84" y1="439.68" x2="389.24" y2="438.45" stroke="rgb(150,94,98)" stroke-width="0.42"/>
<line x1="389.24" y1="438.45" x2="392.64" y2="437.22" stroke="rgb(168,90,96)" stroke-width="0.42"/>
<line x1="392.64" y1="437.22" x2="396.04" y2="436.00" stroke="rgb(185,86,94)" stroke-width="0.42"/>
<line x1="396.04" y1="436.00" x2="399.44" y2="434.77" stroke="rgb(203,82,91)" stroke-width="0.42"/>
<line x1="399.44" y1="434.77" x2="402.84" y2="433.54" stroke="rgb(215,80,90)" stroke-width="0.42"/>
<line x1="402.84" y1="433.54" x2="406.24" y2="432.32" stroke="rgb(215,80,90)" stroke-width="0.42"/>
<line x1="361.53" y1="450.93" x2="364.86" y2="449.65" stroke="rgb(105,105,105)" stroke-width="0.42"/>
<line x1="364.86" y1="449.65" x2="368.19" y2="448.36" stroke="rgb(105,105,105)" stroke-width="0.42"/>
<line x1="368.19" y1="448.36" x2="371.52" y2="447.08" stroke="rgb(105,105,105)" stroke-width="0.42"/>
<line x1="371.52" y1="447.08" x2="374.85" y2="445.79" stroke="rgb(105,105,105)" stroke-width="0.42"/>
<line x1="374.85" y1="445.79" x2="378.18" y2="444.50" stroke="rgb(105,105,105)" stroke-width="0.42"/>
<line x1="378.18" y1="444.50" x2="381.50" y2="443.22" stroke="rgb(105,105,105)" stroke-width="0.42"/>
<line x1="381.50" y1="443.22" x2="384.83" y2="441.93" stroke="rgb(115,102,103)" stroke-width="0.42"/>
<line x1="384.83" y1="441.93" x2="388.16" y2="440.65" stroke="rgb(133,98,101)" stroke-width="0.42"/>
<line x1="388.16" y1="440.65" x2="391.49" y2="439.36" stroke="rgb(150,94,98)" stroke-width="0.42"/>
<line x1="391.49" y1="439.36" x2="394.82" y2="438.08" stroke="rgb(168,90,96)" stroke-width="0.42"/>
<line x1="394.82" y1="438.08" x2="398.15" y2="436.79" stroke="rgb(185,86,94)" stroke-width="0.42"/>
<line x1="398.15" y1="436.79" x2="401.48" y2="435.50" stroke="rgb(203,82,91)" stroke-width="0.42"/>
<line x1="401.48" y1="435.50" x2="404.80" y2="434.22" stroke="rgb(215,80,90)" stroke-width="0.42"/>
<line x1="404.80" y1="434.22" x2="408.13" y2="432.93" stroke="rgb(215,80,90)" stroke-width="0.42"/>
<line x1="364.43" y1="452.37" x2="367.68" y2="451.03" stroke="rgb(105,105,105)" stroke-width="0.42"/>
<line x1="367.68" y1="451.03" x2="370.94" y2="449.69" stroke="rgb(105,105,105)" stroke-width="0.42"/>
<line x1="370.94" y1="449.69" x2="374.20" y2="448.34" stroke="rgb(105,105,105)" stroke-width="0.42"/>
<line x1="374.20" y1="448.34" x2="377.45" y2="447.00" stroke="rgb(105,105,105)" stroke-width="0.42"/>
<line x1="377.45" y1="447.00" x2="380.71" y2="445.65" stroke="rgb(105,105,105)" stroke-width="0.42"/>
<line x1="380.71" y1="445.65" x2="383.97" y2="444.31" stroke="rgb(105,105,105)" stroke-width="0.42"/>
<line x1="383.97" y1="444.31" x2="387.23" y2="442.96" stroke="rgb(115,102,103)" stroke-width="0.42"/>
<line x1="387.23" y1="442.96" x2="390.48" y2="441.62" stroke="rgb(133,98,101)" stroke-width="0.42"/>
<line x1="390.48" y1="441.62" x2="393.74" y2="440.27" stroke="rgb(150,94,98)" stroke-width="0.42"/>
<line x1="393.74" y1="440.27" x2="397.00" y2="438.93" stroke="rgb(168,90,96)" stroke-width="0.42"/>
<line x1="397.00" y1="438.93" x2="400.25" y2="437.58" stroke="rgb(185,86,94)" stroke-width="0.42"/>
<line x1="400.25" y1="437.58" x2="403.51" y2="436.24" stroke="rgb(203,82,91)" stroke-width="0.42"/>
<line x1="403.51" y1="436.24" x2="406.77" y2="434.89" stroke="rgb(215,80,90)" stroke-width="0.42"/>
<line x1="406.77" y1="434.89" x2="410.02" y2="433.55" stroke="rgb(215,80,90)" stroke-width="0.42"/>
<line x1="367.32" y1="453.82" x2="370.50" y2="452.41" stroke="rgb(105,105,105)" stroke-width="0.42"/>
<line x1="370.50" y1="452.41" x2="373.69" y2="451.01" stroke="rgb(105,105,105)" stroke-width="0.42"/>
<line x1="373.69" y1="451.01" x2="376.87" y2="449.61" stroke="rgb(105,105,105)" stroke-width="0.42"/>
<line x1="376.87" y1="449.61" x2="380.06" y2="448.20" stroke="rgb(105,105,105)" stroke-width="0.42"/>
<line x1="380.06" y1="448.20" x2="383.25" y2="446.80" stroke="rgb(105,105,105)" stroke-width="0.42"/>
<line x1="383.25" y1="446.80" x2="386.43" y2="445.40" stroke="rgb(105,105,105)" stroke-width="0.42"/>
<line x1="386.43" y1="445.40" x2="389.62" y2="443.99" stroke="rgb(115,102,103)" stroke-width="0.42"/>
<line x1="389.62" y1="443.99" x2="392.80" y2="442.59" stroke="rgb(133,98,101)" stroke-width="0.42"/>
<line x1="392.80" y1="442.59" x2="395.99" y2="441.18" stroke="rgb(150,94,98)" stroke-width="0.42"/>
<line x1="395.99" y1="441.18" x2="399.17" y2="439.78" stroke="rgb(168,90,96)" stroke-width="0.42"/>
<line x1="399.17" y1="439.78" x2="402.36" y2="438.38" stroke="rgb(185,86,94)" stroke-width="0.42"/>
<line x1="402.36" y1="438.38" x2="405.55" y2="436.97" stroke="rgb(203,82,91)" stroke-width="0.42"/>
<line x1="405.55" y1="436.97" x2="408.73" y2="435.57" stroke="rgb(215,80,90)" stroke-width="0.42"/>
<line x1="408.73" y1="435.57" x2="411.92" y2="434.17" stroke="rgb(215,80,90)" stroke-width="0.42"/>
<line x1="370.21" y1="455.26" x2="373.32" y2="453.80" stroke="rgb(105,105,105)" stroke-width="0.42"/>
<line x1="373.32" y1="453.80" x2="376.44" y2="452.33" stroke="rgb(105,105,105)" stroke-width="0.42"/>
<line x1="376.44" y1="452.33" x2="379.55" y2="450.87" stroke="rgb(105,105,105)" stroke-width="0.42"/>
<line x1="379.55" y1="450.87" x2="382.67" y2="449.41" stroke="rgb(105,105,105)" stroke-width="0.42"/>
<line x1="382.67" y1="449.41" x2="385.78" y2="447.95" stroke="rgb(105,105,105)" stroke-width="0.42"/>
<line x1="385.78" y1="447.95" x2="388.89" y2="446.48" stroke="rgb(105,105,105)" stroke-width="0.42"/>
<line x1="388.89" y1="446.48" x2="392.01" y2="445.02" stroke="rgb(115,102,103)" stroke-width="0.42"/>
<line x1="392.01" y1="445.02" x2="395.12" y2="443.56" stroke="rgb(133,98,101)" stroke-width="0.42"/>
<line x1="395.12" y1="443.56" x2="398.24" y2="442.10" stroke="rgb(150,94,98)" stroke-width="0.42"/>
<line x1="398.24" y1="442.10" x2="401.35" y2="440.63" stroke="rgb(168,90,96)" stroke-width="0.42"/>
<line x1="401.35" y1="440.63" x2="404.47" y2="439.17" stroke="rgb(185,86,94)" stroke-width="0.42"/>
<line x1="404.47" y1="439.17" x2="407.58" y2="437.71" stroke="rgb(203,82,91)" stroke-width="0.42"/>
<line x1="407.58" y1="437.71" x2="410.69" y2="436.25" stroke="rgb(215,80,90)" stroke-width="0.42"/>
<line x1="410.69" y1="436.25" x2="413.81" y2="434.78" stroke="rgb(215,80,90)" stroke-width="0.42"/>
<line x1="373.10" y1="456.70" x2="376.14" y2="455.18" stroke="rgb(105,105,105)" stroke-width="0.42"/>
<line x1="376.14" y1="455.18" x2="379.19" y2="453.66" stroke="rgb(105,105,105)" stroke-width="0.42"/>
<line x1="379.19" y1="453.66" x2="382.23" y2="452.14" stroke="rgb(105,105,105)" stroke-width="0.42"/>
<line x1="382.23" y1="452.14" x2="385.27" y2="450.61" stroke="rgb(105,105,105)" stroke-width="0.42"/>
<line x1="385.27" y1="450.61" x2="388.31" y2="449.09" stroke="rgb(105,105,105)" stroke-width="0.42"/>
<line x1="388.31" y1="449.09" x2="391.36" y2="447.57" stroke="rgb(105,105,105)" stroke-width="0.42"/>
<line x1="391.36" y1="447.57" x2="394.40" y2="446.05" stroke="rgb(115,102,103)" stroke-width="0.42"/>
<line x1="394.40" y1="446.05" x2="397.44" y2="444.53" stroke="rgb(133,98,101)" stroke-width="0.42"/>
<line x1="397.44" y1="444.53" x2="400.49" y2="443.01" stroke="rgb(150,94,98)" stroke-width="0.42"/>
<line x1="400.49" y1="443.01" x2="403.53" y2="441.49" stroke="rgb(168,90,96)" stroke-width="0.42"/>
<line x1="403.53" y1="441.49" x2="406.57" y2="439.96" stroke="rgb(185,86,94)" stroke-width="0.42"/>
<line x1="406.57" y1="439.96" x2="409.61" y2="438.44" stroke="rgb(203,82,91)" stroke-width="0.42"/>
<line x1="409.61" y1="438.44" x2="412.66" y2="436.92" stroke="rgb(215,80,90)" stroke-width="0.42"/>
<line x1="412.66" y1="436.92" x2="415.70" y2="435.40" stroke="rgb(215,80,90)" stroke-width="0.42"/>
<path d="M338.40,439.40 L341.87,441.13 L345.34,442.86 L348.81,444.59 L352.28,446.32 L355.75,448.05 L359.22,449.78 L362.69,451.51 L366.16,453.24 L369.63,454.97 L373.10,456.70" stroke="rgb(105,105,105)" stroke-width="0.42" fill="none"/>
<path d="M352.05,436.53 L355.22,438.01 L358.39,439.50 L361.56,440.99 L364.73,442.48 L367.90,443.96 L371.07,445.44 L374.24,446.93 L377.41,448.41 L380.58,449.89 L383.75,451.38" stroke="rgb(105,105,105)" stroke-width="0.42" fill="none"/>
<path d="M365.70,432.93 L368.57,434.17 L371.44,435.78 L374.31,437.30 L377.18,438.63 L380.05,439.87 L382.92,441.11 L385.79,442.34 L388.66,443.58 L391.53,444.81 L394.40,446.05" stroke="rgb(124,100,102)" stroke-width="0.42" fill="none"/>
<path d="M379.35,428.86 L381.92,429.85 L384.49,431.80 L387.06,433.54 L389.63,434.76 L392.20,435.78 L394.77,436.77 L397.34,437.76 L399.91,438.75 L402.48,439.74 L405.05,440.72" stroke="rgb(185,86,94)" stroke-width="0.42" fill="none"/>
<path d="M393.00,427.58 L395.27,428.32 L397.54,429.26 L399.81,430.16 L402.08,430.95 L404.35,431.70 L406.62,432.44 L408.89,433.18 L411.16,433.92 L413.43,434.66 L415.70,435.40" stroke="rgb(215,80,90)" stroke-width="0.42" fill="none"/>
<path d="M356.49,435.95 L358.66,435.41 L360.84,434.83 L363.01,434.20 L365.19,433.50 L367.36,432.76 L369.54,431.97 L371.71,431.19 L373.88,430.44" stroke="#4a4a4a" stroke-width="0.45" fill="none"/>
<path d="M358.03,436.65 L360.18,436.09 L362.33,435.49 L364.48,434.84 L366.63,434.12 L368.78,433.35 L370.93,432.54 L373.09,431.73 L375.24,430.96" stroke="#4a4a4a" stroke-width="0.45" fill="none"/>
<path d="M359.58,437.37 L361.70,436.80 L363.83,436.20 L365.95,435.55 L368.08,434.84 L370.21,434.09 L372.33,433.31 L374.46,432.52 L376.59,431.78" stroke="#4a4a4a" stroke-width="0.45" fill="none"/>
<path d="M361.12,438.10 L363.22,437.53 L365.32,436.93 L367.43,436.30 L369.53,435.63 L371.63,434.93 L373.73,434.20 L375.83,433.47 L377.94,432.77" stroke="#4a4a4a" stroke-width="0.45" fill="none"/>
<line x1="338.70" y1="468.70" x2="333.50" y2="404.30" stroke="#111" stroke-width="1.0"/>
<line x1="338.70" y1="468.70" x2="375.20" y2="495.60" stroke="#111" stroke-width="1.0"/>
<line x1="375.20" y1="495.60" x2="418.20" y2="469.80" stroke="#111" stroke-width="1.0"/>
<line x1="418.20" y1="469.80" x2="424.00" y2="410.40" stroke="#111" stroke-width="1.0"/>
<line x1="331.74" y1="407.30" x2="333.74" y2="407.30" stroke="#111" stroke-width="0.7"/>
<text x="330.14" y="409.40" font-size="6.0" text-anchor="end" fill="#262626">20</text>
<line x1="332.47" y1="416.30" x2="334.47" y2="416.30" stroke="#111" stroke-width="0.7"/>
<text x="330.87" y="418.40" font-size="6.0" text-anchor="end" fill="#262626">15</text>
<line x1="333.22" y1="425.60" x2="335.22" y2="425.60" stroke="#111" stroke-width="0.7"/>
<text x="331.62" y="427.70" font-size="6.0" text-anchor="end" fill="#262626">10</text>
<line x1="333.90" y1="434.00" x2="335.90" y2="434.00" stroke="#111" stroke-width="0.7"/>
<text x="332.30" y="436.10" font-size="6.0" text-anchor="end" fill="#262626">5</text>
<line x1="334.67" y1="443.50" x2="336.67" y2="443.50" stroke="#111" stroke-width="0.7"/>
<text x="333.07" y="445.60" font-size="6.0" text-anchor="end" fill="#262626">0</text>
<line x1="335.43" y1="453.00" x2="337.43" y2="453.00" stroke="#111" stroke-width="0.7"/>
<text x="333.83" y="455.10" font-size="6.0" text-anchor="end" fill="#262626">&#8722;5</text>
<line x1="336.21" y1="462.60" x2="338.21" y2="462.60" stroke="#111" stroke-width="0.7"/>
<text x="334.61" y="464.70" font-size="6.0" text-anchor="end" fill="#262626">&#8722;10</text>
<line x1="336.76" y1="469.40" x2="338.76" y2="469.40" stroke="#111" stroke-width="0.7"/>
<text x="335.16" y="471.50" font-size="6.0" text-anchor="end" fill="#262626">&#8722;15</text>
<line x1="338.70" y1="468.70" x2="337.90" y2="470.30" stroke="#111" stroke-width="0.6"/>
<text x="337.30" y="479.00" font-size="6.0" text-anchor="middle" fill="#262626">0</text>
<line x1="343.57" y1="472.29" x2="342.77" y2="473.89" stroke="#111" stroke-width="0.6"/>
<text x="343.80" y="484.80" font-size="6.0" text-anchor="middle" fill="#262626">2</text>
<line x1="350.87" y1="477.67" x2="350.07" y2="479.27" stroke="#111" stroke-width="0.6"/>
<text x="353.50" y="491.30" font-size="6.0" text-anchor="middle" fill="#262626">5</text>
<line x1="363.03" y1="486.63" x2="362.23" y2="488.23" stroke="#111" stroke-width="0.6"/>
<text x="363.00" y="498.60" font-size="6.0" text-anchor="middle" fill="#262626">10</text>
<line x1="375.20" y1="495.60" x2="374.40" y2="497.20" stroke="#111" stroke-width="0.6"/>
<text x="373.80" y="504.80" font-size="6.0" text-anchor="middle" fill="#262626">15</text>
<text x="385.80" y="499.60" font-size="6.0" text-anchor="middle" fill="#262626">0</text>
<text x="424.20" y="478.40" font-size="6.0" text-anchor="middle" fill="#262626">50</text>
<text x="341.40" y="497.40" font-size="6.5" text-anchor="middle" fill="#262626" transform="rotate(37 341.40 497.40)" class="r">A366(uM)</text>
<text x="410.20" y="497.20" font-size="6.5" text-anchor="middle" fill="#262626" transform="rotate(-31 410.20 497.20)" class="r">AZA (nM)</text>
<text x="318.30" y="441.20" font-size="6.4" text-anchor="middle" fill="#262626" transform="rotate(-90 318.30 441.20)" class="r" textLength="37" lengthAdjust="spacingAndGlyphs" style="stroke-width:0.3px">Synergy score</text>
<defs><linearGradient id="cb" x1="0" y1="0" x2="0" y2="1"><stop offset="0" stop-color="#e8141c"/><stop offset="0.5" stop-color="#ffffff"/><stop offset="1" stop-color="#3c9a2c"/></linearGradient></defs>
<rect x="432.80" y="426.40" width="8.50" height="37.10" fill="url(#cb)"/>
<text x="433.00" y="422.00" font-size="5.7" fill="#262626">Synergy score</text>
<text x="442.60" y="430.10" font-size="5.9" fill="#262626">&#8211;20</text>
<text x="442.60" y="447.30" font-size="5.9" fill="#262626">&#8211;0</text>
<text x="442.60" y="464.70" font-size="5.9" fill="#262626">&#8211;20</text>
<text x="5.80" y="534.70" font-size="10.6" font-weight="bold" fill="#111">U</text>
<text x="41.80" y="535.60" font-size="4.9" fill="#262626" textLength="93" lengthAdjust="spacingAndGlyphs">Enrichment plot: HALLMARK_APOPTOSIS</text>
<rect x="51.90" y="538.20" width="75.40" height="73.00" fill="#fff"/>
<line x1="51.90" y1="543.60" x2="127.30" y2="543.60" stroke="#c8c8c8" stroke-width="0.5"/>
<line x1="51.90" y1="550.30" x2="127.30" y2="550.30" stroke="#f0f0f0" stroke-width="0.4"/>
<line x1="51.90" y1="556.90" x2="127.30" y2="556.90" stroke="#f0f0f0" stroke-width="0.4"/>
<line x1="51.90" y1="563.30" x2="127.30" y2="563.30" stroke="#f0f0f0" stroke-width="0.4"/>
<line x1="51.90" y1="570.20" x2="127.30" y2="570.20" stroke="#f0f0f0" stroke-width="0.4"/>
<path d="M52.30,544.00 L53.80,545.30 L55.20,544.40 L56.60,543.00 L60.00,546.50 L64.00,550.20 L67.50,553.00 L70.00,553.80 L71.20,552.80 L72.30,553.70 L73.50,552.40 L74.60,553.50 L75.30,552.70 L79.00,556.30 L83.50,559.80 L85.20,557.60 L88.00,560.20 L93.00,564.50 L98.30,568.60 L100.40,565.80 L101.50,567.40 L103.60,562.50 L104.60,565.20 L110.00,568.80 L116.20,571.70 L116.80,557.60 L120.00,560.00 L123.20,562.60 L123.70,540.20 L125.50,541.40 L127.30,543.20" stroke="#4f9c30" stroke-width="1.2" fill="none"/>
<line x1="51.90" y1="573.60" x2="127.30" y2="573.60" stroke="#888" stroke-width="0.5"/>
<line x1="55.50" y1="574.00" x2="55.50" y2="584.80" stroke="#111" stroke-width="0.7"/>
<line x1="56.50" y1="574.00" x2="56.50" y2="584.80" stroke="#111" stroke-width="0.7"/>
<line x1="70.10" y1="574.00" x2="70.10" y2="584.80" stroke="#222" stroke-width="0.7"/>
<line x1="71.40" y1="574.00" x2="71.40" y2="584.80" stroke="#222" stroke-width="0.7"/>
<line x1="73.20" y1="574.00" x2="73.20" y2="584.80" stroke="#222" stroke-width="0.7"/>
<line x1="75.60" y1="574.00" x2="75.60" y2="584.80" stroke="#111" stroke-width="0.7"/>
<line x1="84.00" y1="574.00" x2="84.00" y2="584.80" stroke="#222" stroke-width="0.7"/>
<line x1="98.50" y1="574.00" x2="98.50" y2="584.80" stroke="#777" stroke-width="0.7"/>
<line x1="104.20" y1="574.00" x2="104.20" y2="584.80" stroke="#777" stroke-width="0.7"/>
<line x1="116.30" y1="574.00" x2="116.30" y2="584.80" stroke="#888" stroke-width="0.7"/>
<line x1="123.20" y1="574.00" x2="123.20" y2="584.80" stroke="#888" stroke-width="0.7"/>
<rect x="51.90" y="585.20" width="44.70" height="2.90" fill="#c7c7e3"/>
<rect x="96.60" y="585.20" width="30.70" height="2.90" fill="#2a2f96"/>
<path d="M96.6,588.5 L96.60,588.50 L98.13,588.51 L99.67,588.56 L101.20,588.66 L102.74,588.84 L104.27,589.11 L105.81,589.48 L107.34,589.97 L108.88,590.58 L110.41,591.32 L111.95,592.21 L113.48,593.25 L115.02,594.46 L116.55,595.84 L118.09,597.40 L119.62,599.15 L121.16,601.10 L122.69,603.25 L124.23,605.61 L125.77,608.19 L127.30,611.00 L127.30,588.5 Z" stroke="none" stroke-width="0" fill="#bdbdbd"/>
<line x1="51.90" y1="588.50" x2="127.30" y2="588.50" stroke="#999" stroke-width="0.4"/>
<text x="53.80" y="592.40" font-size="3.1" fill="#d84848" class="c">Control (positively correlated)</text>
<text x="87.60" y="609.20" font-size="3.1" fill="#4848b0" class="c">Control (negatively correlated)</text>
<rect x="51.90" y="538.20" width="75.40" height="73.00" fill="none" stroke="#444" stroke-width="0.7"/>
<line x1="50.40" y1="543.40" x2="51.90" y2="543.40" stroke="#333" stroke-width="0.5"/>
<text x="49.70" y="545.20" font-size="5.0" text-anchor="end" fill="#262626">0.0</text>
<line x1="50.40" y1="550.30" x2="51.90" y2="550.30" stroke="#333" stroke-width="0.5"/>
<text x="49.70" y="552.10" font-size="5.0" text-anchor="end" fill="#262626">&#8722;0.1</text>
<line x1="50.40" y1="556.90" x2="51.90" y2="556.90" stroke="#333" stroke-width="0.5"/>
<text x="49.70" y="558.70" font-size="5.0" text-anchor="end" fill="#262626">&#8722;0.2</text>
<line x1="50.40" y1="563.30" x2="51.90" y2="563.30" stroke="#333" stroke-width="0.5"/>
<text x="49.70" y="565.10" font-size="5.0" text-anchor="end" fill="#262626">&#8722;0.3</text>
<line x1="50.40" y1="570.20" x2="51.90" y2="570.20" stroke="#333" stroke-width="0.5"/>
<text x="49.70" y="572.00" font-size="5.0" text-anchor="end" fill="#262626">&#8722;0.4</text>
<line x1="50.40" y1="588.40" x2="51.90" y2="588.40" stroke="#333" stroke-width="0.5"/>
<text x="49.70" y="590.20" font-size="5.0" text-anchor="end" fill="#262626">0</text>
<line x1="50.40" y1="593.60" x2="51.90" y2="593.60" stroke="#333" stroke-width="0.5"/>
<text x="49.70" y="595.40" font-size="5.0" text-anchor="end" fill="#262626">&#8722;1</text>
<line x1="50.40" y1="599.00" x2="51.90" y2="599.00" stroke="#333" stroke-width="0.5"/>
<text x="49.70" y="600.80" font-size="5.0" text-anchor="end" fill="#262626">&#8722;2</text>
<line x1="50.40" y1="604.50" x2="51.90" y2="604.50" stroke="#333" stroke-width="0.5"/>
<text x="49.70" y="606.30" font-size="5.0" text-anchor="end" fill="#262626">&#8722;3</text>
<line x1="50.40" y1="609.90" x2="51.90" y2="609.90" stroke="#333" stroke-width="0.5"/>
<text x="49.70" y="611.70" font-size="5.0" text-anchor="end" fill="#262626">&#8722;4</text>
<text x="24.40" y="557.10" font-size="6.2" text-anchor="middle" fill="#262626" transform="rotate(-90 24.40 557.10)" class="r" textLength="37.4" lengthAdjust="spacingAndGlyphs">Enrichment score</text>
<text x="33.30" y="557.50" font-size="6.2" text-anchor="middle" fill="#262626" transform="rotate(-90 33.30 557.50)" class="r" textLength="9.4" lengthAdjust="spacingAndGlyphs">(ES)</text>
<text x="28.40" y="598.90" font-size="6.2" text-anchor="middle" font-weight="bold" fill="#262626" transform="rotate(-90 28.40 598.90)" class="r" textLength="39.4" lengthAdjust="spacingAndGlyphs">Ranked list metric</text>
<text x="36.90" y="601.00" font-size="6.2" text-anchor="middle" font-weight="bold" fill="#262626" transform="rotate(-90 36.90 601.00)" class="r" textLength="31.3" lengthAdjust="spacingAndGlyphs">(Signal2Noise)</text>
<line x1="52.60" y1="611.20" x2="52.60" y2="612.60" stroke="#333" stroke-width="0.5"/>
<text x="54.20" y="614.40" font-size="4.9" text-anchor="end" fill="#262626" transform="rotate(-45 54.20 614.40)" class="r">0</text>
<line x1="61.90" y1="611.20" x2="61.90" y2="612.60" stroke="#333" stroke-width="0.5"/>
<text x="63.50" y="614.40" font-size="4.9" text-anchor="end" fill="#262626" transform="rotate(-45 63.50 614.40)" class="r">200</text>
<line x1="71.20" y1="611.20" x2="71.20" y2="612.60" stroke="#333" stroke-width="0.5"/>
<text x="72.80" y="614.40" font-size="4.9" text-anchor="end" fill="#262626" transform="rotate(-45 72.80 614.40)" class="r">400</text>
<line x1="80.50" y1="611.20" x2="80.50" y2="612.60" stroke="#333" stroke-width="0.5"/>
<text x="82.10" y="614.40" font-size="4.9" text-anchor="end" fill="#262626" transform="rotate(-45 82.10 614.40)" class="r">600</text>
<line x1="89.80" y1="611.20" x2="89.80" y2="612.60" stroke="#333" stroke-width="0.5"/>
<text x="91.40" y="614.40" font-size="4.9" text-anchor="end" fill="#262626" transform="rotate(-45 91.40 614.40)" class="r">800</text>
<line x1="99.10" y1="611.20" x2="99.10" y2="612.60" stroke="#333" stroke-width="0.5"/>
<text x="100.70" y="614.40" font-size="4.9" text-anchor="end" fill="#262626" transform="rotate(-45 100.70 614.40)" class="r">1,000</text>
<line x1="108.40" y1="611.20" x2="108.40" y2="612.60" stroke="#333" stroke-width="0.5"/>
<text x="110.00" y="614.40" font-size="4.9" text-anchor="end" fill="#262626" transform="rotate(-45 110.00 614.40)" class="r">1,200</text>
<line x1="117.70" y1="611.20" x2="117.70" y2="612.60" stroke="#333" stroke-width="0.5"/>
<text x="119.30" y="614.40" font-size="4.9" text-anchor="end" fill="#262626" transform="rotate(-45 119.30 614.40)" class="r">1,400</text>
<line x1="127.00" y1="611.20" x2="127.00" y2="612.60" stroke="#333" stroke-width="0.5"/>
<text x="128.60" y="614.40" font-size="4.9" text-anchor="end" fill="#262626" transform="rotate(-45 128.60 614.40)" class="r">1,600</text>
<text x="90.90" y="634.60" font-size="6.0" text-anchor="middle" font-weight="bold" fill="#262626" textLength="52" lengthAdjust="spacingAndGlyphs">Rank in ordered dataset</text>
<line x1="44.00" y1="645.00" x2="55.80" y2="645.00" stroke="#6ab04a" stroke-width="1.0"/>
<text x="59.20" y="647.00" font-size="5.7" fill="#262626">Enrichment profile</text>
<line x1="111.60" y1="645.00" x2="124.60" y2="645.00" stroke="#111" stroke-width="1.1"/>
<text x="127.20" y="647.00" font-size="5.7" fill="#262626">Hits</text>
<line x1="44.00" y1="652.20" x2="55.80" y2="652.20" stroke="#b8b8dc" stroke-width="1.0"/>
<text x="59.20" y="654.20" font-size="5.7" fill="#262626">Ranking metric scores</text>
<rect x="214.20" y="586.50" width="7.10" height="7.00" fill="#e3121f"/>
<rect x="221.30" y="586.50" width="7.10" height="7.00" fill="#e3121f"/>
<rect x="228.40" y="586.50" width="7.10" height="7.00" fill="#e3121f"/>
<rect x="235.50" y="586.50" width="7.10" height="7.00" fill="#ec5456"/>
<rect x="242.60" y="586.50" width="7.10" height="7.00" fill="#f39496"/>
<rect x="249.70" y="586.50" width="7.10" height="7.00" fill="#e3121f"/>
<rect x="256.80" y="586.50" width="7.10" height="7.00" fill="#e3121f"/>
<rect x="263.90" y="586.50" width="7.10" height="7.00" fill="#ec5456"/>
<rect x="271.00" y="586.50" width="7.10" height="7.00" fill="#ec5456"/>
<rect x="278.10" y="586.50" width="7.10" height="7.00" fill="#e3121f"/>
<rect x="285.20" y="586.50" width="7.10" height="7.00" fill="#e3121f"/>
<rect x="292.30" y="586.50" width="7.10" height="7.00" fill="#e3121f"/>
<rect x="299.40" y="586.50" width="7.10" height="7.00" fill="#e3121f"/>
<rect x="306.50" y="586.50" width="7.10" height="7.00" fill="#e3121f"/>
<rect x="214.20" y="593.50" width="7.10" height="7.00" fill="#e3121f"/>
<rect x="221.30" y="593.50" width="7.10" height="7.00" fill="#ec5456"/>
<rect x="228.40" y="593.50" width="7.10" height="7.00" fill="#f39496"/>
<rect x="235.50" y="593.50" width="7.10" height="7.00" fill="#e3121f"/>
<rect x="242.60" y="593.50" width="7.10" height="7.00" fill="#e3121f"/>
<rect x="249.70" y="593.50" width="7.10" height="7.00" fill="#ec5456"/>
<rect x="256.80" y="593.50" width="7.10" height="7.00" fill="#e3121f"/>
<rect x="263.90" y="593.50" width="7.10" height="7.00" fill="#e3121f"/>
<rect x="271.00" y="593.50" width="7.10" height="7.00" fill="#e3121f"/>
<rect x="278.10" y="593.50" width="7.10" height="7.00" fill="#e3121f"/>
<rect x="285.20" y="593.50" width="7.10" height="7.00" fill="#e3121f"/>
<rect x="292.30" y="593.50" width="7.10" height="7.00" fill="#e3121f"/>
<rect x="299.40" y="593.50" width="7.10" height="7.00" fill="#f39496"/>
<rect x="306.50" y="593.50" width="7.10" height="7.00" fill="#ec5456"/>
<rect x="214.20" y="600.50" width="7.10" height="7.00" fill="#ec5456"/>
<rect x="221.30" y="600.50" width="7.10" height="7.00" fill="#e3121f"/>
<rect x="228.40" y="600.50" width="7.10" height="7.00" fill="#f39496"/>
<rect x="235.50" y="600.50" width="7.10" height="7.00" fill="#e3121f"/>
<rect x="242.60" y="600.50" width="7.10" height="7.00" fill="#ec5456"/>
<rect x="249.70" y="600.50" width="7.10" height="7.00" fill="#e3121f"/>
<rect x="256.80" y="600.50" width="7.10" height="7.00" fill="#e3121f"/>
<rect x="263.90" y="600.50" width="7.10" height="7.00" fill="#e3121f"/>
<rect x="271.00" y="600.50" width="7.10" height="7.00" fill="#e3121f"/>
<rect x="278.10" y="600.50" width="7.10" height="7.00" fill="#e3121f"/>
<rect x="285.20" y="600.50" width="7.10" height="7.00" fill="#e3121f"/>
<rect x="292.30" y="600.50" width="7.10" height="7.00" fill="#e3121f"/>
<rect x="299.40" y="600.50" width="7.10" height="7.00" fill="#ec5456"/>
<rect x="306.50" y="600.50" width="7.10" height="7.00" fill="#ec5456"/>
<rect x="214.20" y="607.50" width="7.10" height="7.00" fill="#2e379c"/>
<rect x="221.30" y="607.50" width="7.10" height="7.00" fill="#2e379c"/>
<rect x="228.40" y="607.50" width="7.10" height="7.00" fill="#5563b8"/>
<rect x="235.50" y="607.50" width="7.10" height="7.00" fill="#2e379c"/>
<rect x="242.60" y="607.50" width="7.10" height="7.00" fill="#2e379c"/>
<rect x="249.70" y="607.50" width="7.10" height="7.00" fill="#2e379c"/>
<rect x="256.80" y="607.50" width="7.10" height="7.00" fill="#2e379c"/>
<rect x="263.90" y="607.50" width="7.10" height="7.00" fill="#2e379c"/>
<rect x="271.00" y="607.50" width="7.10" height="7.00" fill="#2e379c"/>
<rect x="278.10" y="607.50" width="7.10" height="7.00" fill="#2e379c"/>
<rect x="285.20" y="607.50" width="7.10" height="7.00" fill="#2e379c"/>
<rect x="292.30" y="607.50" width="7.10" height="7.00" fill="#2e379c"/>
<rect x="299.40" y="607.50" width="7.10" height="7.00" fill="#2e379c"/>
<rect x="306.50" y="607.50" width="7.10" height="7.00" fill="#8592d0"/>
<rect x="214.20" y="614.50" width="7.10" height="7.00" fill="#262488"/>
<rect x="221.30" y="614.50" width="7.10" height="7.00" fill="#2e379c"/>
<rect x="228.40" y="614.50" width="7.10" height="7.00" fill="#2e379c"/>
<rect x="235.50" y="614.50" width="7.10" height="7.00" fill="#2e379c"/>
<rect x="242.60" y="614.50" width="7.10" height="7.00" fill="#2e379c"/>
<rect x="249.70" y="614.50" width="7.10" height="7.00" fill="#2e379c"/>
<rect x="256.80" y="614.50" width="7.10" height="7.00" fill="#5563b8"/>
<rect x="263.90" y="614.50" width="7.10" height="7.00" fill="#2e379c"/>
<rect x="271.00" y="614.50" width="7.10" height="7.00" fill="#5563b8"/>
<rect x="278.10" y="614.50" width="7.10" height="7.00" fill="#5563b8"/>
<rect x="285.20" y="614.50" width="7.10" height="7.00" fill="#f0a08e"/>
<rect x="292.30" y="614.50" width="7.10" height="7.00" fill="#262488"/>
<rect x="299.40" y="614.50" width="7.10" height="7.00" fill="#c9cbee"/>
<rect x="306.50" y="614.50" width="7.10" height="7.00" fill="#262488"/>
<rect x="214.20" y="621.50" width="7.10" height="7.00" fill="#8592d0"/>
<rect x="221.30" y="621.50" width="7.10" height="7.00" fill="#2e379c"/>
<rect x="228.40" y="621.50" width="7.10" height="7.00" fill="#5563b8"/>
<rect x="235.50" y="621.50" width="7.10" height="7.00" fill="#8592d0"/>
<rect x="242.60" y="621.50" width="7.10" height="7.00" fill="#8592d0"/>
<rect x="249.70" y="621.50" width="7.10" height="7.00" fill="#2e379c"/>
<rect x="256.80" y="621.50" width="7.10" height="7.00" fill="#5563b8"/>
<rect x="263.90" y="621.50" width="7.10" height="7.00" fill="#2e379c"/>
<rect x="271.00" y="621.50" width="7.10" height="7.00" fill="#2e379c"/>
<rect x="278.10" y="621.50" width="7.10" height="7.00" fill="#8592d0"/>
<rect x="285.20" y="621.50" width="7.10" height="7.00" fill="#2e379c"/>
<rect x="292.30" y="621.50" width="7.10" height="7.00" fill="#2e379c"/>
<rect x="299.40" y="621.50" width="7.10" height="7.00" fill="#8592d0"/>
<rect x="306.50" y="621.50" width="7.10" height="7.00" fill="#2e379c"/>
<line x1="214.20" y1="536.90" x2="214.20" y2="586.50" stroke="#333" stroke-width="0.6"/>
<line x1="214.20" y1="586.50" x2="214.20" y2="628.50" stroke="#1a1a1a" stroke-width="0.75"/>
<line x1="221.30" y1="536.90" x2="221.30" y2="586.50" stroke="#333" stroke-width="0.6"/>
<line x1="221.30" y1="586.50" x2="221.30" y2="628.50" stroke="#1a1a1a" stroke-width="0.75"/>
<line x1="228.40" y1="536.90" x2="228.40" y2="586.50" stroke="#333" stroke-width="0.6"/>
<line x1="228.40" y1="586.50" x2="228.40" y2="628.50" stroke="#1a1a1a" stroke-width="0.75"/>
<line x1="235.50" y1="536.90" x2="235.50" y2="586.50" stroke="#333" stroke-width="0.6"/>
<line x1="235.50" y1="586.50" x2="235.50" y2="628.50" stroke="#1a1a1a" stroke-width="0.75"/>
<line x1="242.60" y1="536.90" x2="242.60" y2="586.50" stroke="#333" stroke-width="0.6"/>
<line x1="242.60" y1="586.50" x2="242.60" y2="628.50" stroke="#1a1a1a" stroke-width="0.75"/>
<line x1="249.70" y1="536.90" x2="249.70" y2="586.50" stroke="#333" stroke-width="0.6"/>
<line x1="249.70" y1="586.50" x2="249.70" y2="628.50" stroke="#1a1a1a" stroke-width="0.75"/>
<line x1="256.80" y1="536.90" x2="256.80" y2="586.50" stroke="#333" stroke-width="0.6"/>
<line x1="256.80" y1="586.50" x2="256.80" y2="628.50" stroke="#1a1a1a" stroke-width="0.75"/>
<line x1="263.90" y1="536.90" x2="263.90" y2="586.50" stroke="#333" stroke-width="0.6"/>
<line x1="263.90" y1="586.50" x2="263.90" y2="628.50" stroke="#1a1a1a" stroke-width="0.75"/>
<line x1="271.00" y1="536.90" x2="271.00" y2="586.50" stroke="#333" stroke-width="0.6"/>
<line x1="271.00" y1="586.50" x2="271.00" y2="628.50" stroke="#1a1a1a" stroke-width="0.75"/>
<line x1="278.10" y1="536.90" x2="278.10" y2="586.50" stroke="#333" stroke-width="0.6"/>
<line x1="278.10" y1="586.50" x2="278.10" y2="628.50" stroke="#1a1a1a" stroke-width="0.75"/>
<line x1="285.20" y1="536.90" x2="285.20" y2="586.50" stroke="#333" stroke-width="0.6"/>
<line x1="285.20" y1="586.50" x2="285.20" y2="628.50" stroke="#1a1a1a" stroke-width="0.75"/>
<line x1="292.30" y1="536.90" x2="292.30" y2="586.50" stroke="#333" stroke-width="0.6"/>
<line x1="292.30" y1="586.50" x2="292.30" y2="628.50" stroke="#1a1a1a" stroke-width="0.75"/>
<line x1="299.40" y1="536.90" x2="299.40" y2="586.50" stroke="#333" stroke-width="0.6"/>
<line x1="299.40" y1="586.50" x2="299.40" y2="628.50" stroke="#1a1a1a" stroke-width="0.75"/>
<line x1="306.50" y1="536.90" x2="306.50" y2="586.50" stroke="#333" stroke-width="0.6"/>
<line x1="306.50" y1="586.50" x2="306.50" y2="628.50" stroke="#1a1a1a" stroke-width="0.75"/>
<line x1="313.60" y1="536.90" x2="313.60" y2="586.50" stroke="#333" stroke-width="0.6"/>
<line x1="313.60" y1="586.50" x2="313.60" y2="628.50" stroke="#1a1a1a" stroke-width="0.75"/>
<line x1="214.20" y1="586.50" x2="313.60" y2="586.50" stroke="#1a1a1a" stroke-width="0.75"/>
<line x1="214.20" y1="593.50" x2="313.60" y2="593.50" stroke="#1a1a1a" stroke-width="0.75"/>
<line x1="214.20" y1="600.50" x2="313.60" y2="600.50" stroke="#1a1a1a" stroke-width="0.75"/>
<line x1="214.20" y1="607.50" x2="313.60" y2="607.50" stroke="#1a1a1a" stroke-width="0.75"/>
<line x1="214.20" y1="614.50" x2="313.60" y2="614.50" stroke="#1a1a1a" stroke-width="0.75"/>
<line x1="214.20" y1="621.50" x2="313.60" y2="621.50" stroke="#1a1a1a" stroke-width="0.75"/>
<line x1="214.20" y1="628.50" x2="313.60" y2="628.50" stroke="#1a1a1a" stroke-width="0.75"/>
<text x="219.85" y="580.60" font-size="6.0" fill="#262626" transform="rotate(-90 219.85 580.60)" class="r">CASP2</text>
<text x="226.95" y="580.60" font-size="6.0" fill="#262626" transform="rotate(-90 226.95 580.60)" class="r">HMGB2</text>
<text x="234.05" y="580.60" font-size="6.0" fill="#262626" transform="rotate(-90 234.05 580.60)" class="r">CREBBP</text>
<text x="241.15" y="580.60" font-size="6.0" fill="#262626" transform="rotate(-90 241.15 580.60)" class="r">SOD2</text>
<text x="248.25" y="580.60" font-size="6.0" fill="#262626" transform="rotate(-90 248.25 580.60)" class="r">WEE1</text>
<text x="255.35" y="580.60" font-size="6.0" fill="#262626" transform="rotate(-90 255.35 580.60)" class="r">CCND1</text>
<text x="262.45" y="580.60" font-size="6.0" fill="#262626" transform="rotate(-90 262.45 580.60)" class="r">PDCD4</text>
<text x="269.55" y="580.60" font-size="6.0" fill="#262626" transform="rotate(-90 269.55 580.60)" class="r">DNAJA1</text>
<text x="276.65" y="580.60" font-size="6.0" fill="#262626" transform="rotate(-90 276.65 580.60)" class="r">CAV1</text>
<text x="283.75" y="580.60" font-size="6.0" fill="#262626" transform="rotate(-90 283.75 580.60)" class="r">CASP6</text>
<text x="290.85" y="580.60" font-size="6.0" fill="#262626" transform="rotate(-90 290.85 580.60)" class="r">CD38</text>
<text x="297.95" y="580.60" font-size="6.0" fill="#262626" transform="rotate(-90 297.95 580.60)" class="r">ERBB2</text>
<text x="305.05" y="580.60" font-size="6.0" fill="#262626" transform="rotate(-90 305.05 580.60)" class="r">CCND2</text>
<text x="312.15" y="580.60" font-size="6.0" fill="#262626" transform="rotate(-90 312.15 580.60)" class="r">ANXA1</text>
<text x="183.60" y="573.60" font-size="5.9" text-anchor="middle" fill="#333">INA-6</text>
<text x="183.40" y="581.60" font-size="5.8" text-anchor="middle" fill="#333">SampleID</text>
<rect x="160.20" y="586.50" width="39.40" height="7.00" fill="#f4b311"/>
<text x="183.20" y="592.30" font-size="6.1" text-anchor="middle" fill="#2a2a2a">Combo3</text>
<rect x="160.20" y="593.50" width="39.40" height="7.00" fill="#f4b311"/>
<text x="183.20" y="599.30" font-size="6.1" text-anchor="middle" fill="#2a2a2a">Combo2</text>
<rect x="160.20" y="600.50" width="39.40" height="7.00" fill="#f4b311"/>
<text x="183.20" y="606.30" font-size="6.1" text-anchor="middle" fill="#2a2a2a">Combo1</text>
<rect x="160.20" y="607.50" width="39.40" height="7.00" fill="#c9c9ce"/>
<text x="183.20" y="613.30" font-size="6.1" text-anchor="middle" fill="#2a2a2a">Control3</text>
<rect x="160.20" y="614.50" width="39.40" height="7.00" fill="#c9c9ce"/>
<text x="183.20" y="620.30" font-size="6.1" text-anchor="middle" fill="#2a2a2a">Control2</text>
<rect x="160.20" y="621.50" width="39.40" height="7.00" fill="#c9c9ce"/>
<text x="183.20" y="627.30" font-size="6.1" text-anchor="middle" fill="#2a2a2a">Control1</text>
<line x1="160.20" y1="586.70" x2="214.20" y2="586.70" stroke="#6a5a30" stroke-width="1.1"/>
<line x1="160.20" y1="593.70" x2="214.20" y2="593.70" stroke="#6a5a30" stroke-width="1.1"/>
<line x1="160.20" y1="600.70" x2="214.20" y2="600.70" stroke="#6a5a30" stroke-width="1.1"/>
<line x1="160.20" y1="607.70" x2="214.20" y2="607.70" stroke="#5a5a5a" stroke-width="1.1"/>
<line x1="160.20" y1="614.70" x2="214.20" y2="614.70" stroke="#5a5a5a" stroke-width="1.1"/>
<line x1="160.20" y1="621.70" x2="214.20" y2="621.70" stroke="#5a5a5a" stroke-width="1.1"/>
<rect x="0" y="0" width="520" height="1" fill="#6a6a6a"/><rect x="0" y="0" width="1" height="662" fill="#666"/><rect x="518.8" y="0" width="1.2" height="662" fill="#353535"/><rect x="0" y="660.6" width="520" height="1.4" fill="#3c3c3c"/>
</svg>
</body></html>
